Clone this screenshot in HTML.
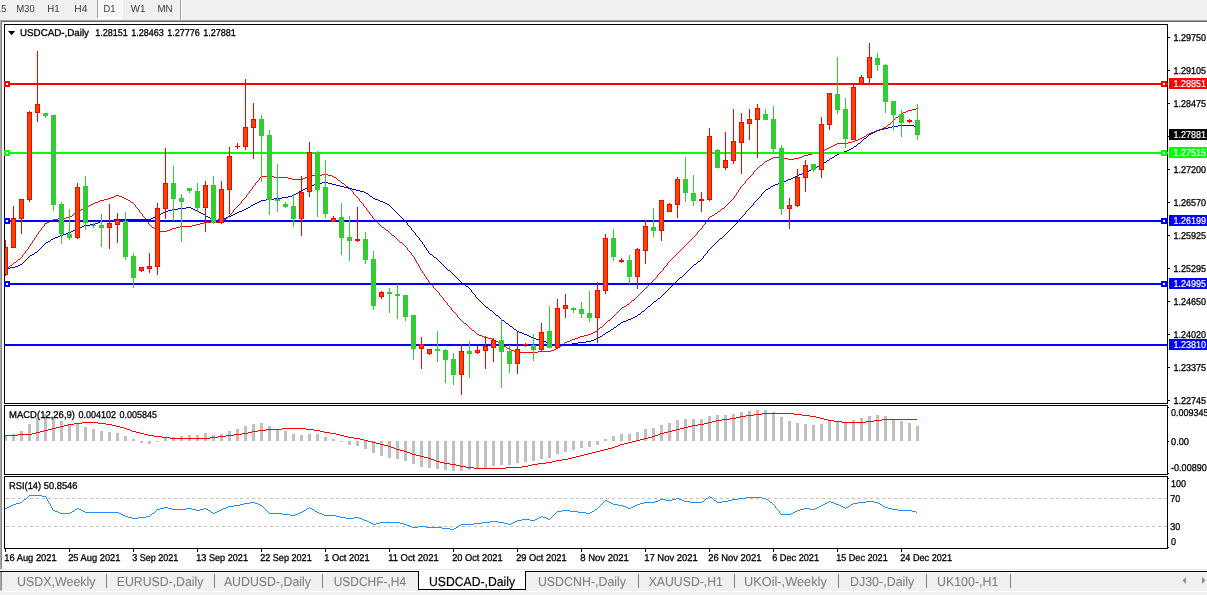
<!DOCTYPE html>
<html lang="en"><head><meta charset="utf-8"><title>USDCAD-,Daily</title>
<style>
html,body{margin:0;padding:0;background:#fff;overflow:hidden}
svg{display:block}
text{font-family:"Liberation Sans","DejaVu Sans",sans-serif}
</style></head><body>
<svg width="1207" height="595" viewBox="0 0 1207 595">
<rect x="0" y="0" width="1207" height="595" fill="#ffffff"/>
<rect x="0" y="0" width="1207" height="20" fill="#f0f0f0"/>
<rect x="0" y="20" width="1207" height="1" fill="#a0a0a0"/>
<rect x="0" y="21" width="1207" height="1" fill="#696969"/>
<pattern id="chk" width="2" height="2" patternUnits="userSpaceOnUse"><rect width="2" height="2" fill="#f0f0f0"/><rect width="1" height="1" fill="#fff"/><rect x="1" y="1" width="1" height="1" fill="#fff"/></pattern>
<rect x="98" y="0" width="24" height="18" fill="url(#chk)" shape-rendering="crispEdges"/>
<rect x="97" y="0" width="1" height="18" fill="#a0a0a0"/>
<rect x="122" y="0" width="1" height="19" fill="#ffffff"/>
<rect x="98" y="18" width="25" height="1" fill="#ffffff"/>
<rect x="180" y="0" width="1" height="20" fill="#a0a0a0"/>
<rect x="181" y="0" width="1" height="20" fill="#ffffff"/>
<text x="-11.5" y="12" font-size="10.2" fill="#3a3a3a" stroke="#3a3a3a" stroke-width="0" text-rendering="geometricPrecision" textLength="17.8" lengthAdjust="spacingAndGlyphs" xml:space="preserve">M15</text>
<text x="16.6" y="12" font-size="10.2" fill="#3a3a3a" stroke="#3a3a3a" stroke-width="0" text-rendering="geometricPrecision" textLength="18.0" lengthAdjust="spacingAndGlyphs" xml:space="preserve">M30</text>
<text x="47.3" y="12" font-size="10.2" fill="#3a3a3a" stroke="#3a3a3a" stroke-width="0" text-rendering="geometricPrecision" textLength="12.3" lengthAdjust="spacingAndGlyphs" xml:space="preserve">H1</text>
<text x="74.3" y="12" font-size="10.2" fill="#3a3a3a" stroke="#3a3a3a" stroke-width="0" text-rendering="geometricPrecision" textLength="13.1" lengthAdjust="spacingAndGlyphs" xml:space="preserve">H4</text>
<text x="103.6" y="12" font-size="10.2" fill="#3a3a3a" stroke="#3a3a3a" stroke-width="0" text-rendering="geometricPrecision" textLength="12.0" lengthAdjust="spacingAndGlyphs" xml:space="preserve">D1</text>
<text x="130.8" y="12" font-size="10.2" fill="#3a3a3a" stroke="#3a3a3a" stroke-width="0" text-rendering="geometricPrecision" textLength="14.6" lengthAdjust="spacingAndGlyphs" xml:space="preserve">W1</text>
<text x="157.4" y="12" font-size="10.2" fill="#3a3a3a" stroke="#3a3a3a" stroke-width="0" text-rendering="geometricPrecision" textLength="15.2" lengthAdjust="spacingAndGlyphs" xml:space="preserve">MN</text>
<rect x="0" y="20" width="1" height="549" fill="#a8a8a8"/>
<rect x="1" y="21" width="1" height="548" fill="#888888"/>
<rect x="4" y="24" width="1164" height="1" fill="#000000"/>
<rect x="4" y="24" width="1" height="380" fill="#000000"/>
<rect x="4" y="403" width="1164" height="1" fill="#000000"/>
<rect x="1167" y="24" width="1" height="380" fill="#000000"/>
<rect x="1167" y="405" width="1" height="70" fill="#000000"/>
<rect x="1167" y="476" width="1" height="73" fill="#000000"/>
<rect x="4" y="405" width="1164" height="1" fill="#000000"/>
<rect x="4" y="405" width="1" height="70" fill="#000000"/>
<rect x="4" y="474" width="1164" height="1" fill="#000000"/>
<rect x="4" y="476" width="1164" height="1" fill="#000000"/>
<rect x="4" y="476" width="1" height="73" fill="#000000"/>
<rect x="4" y="548" width="1164" height="1" fill="#000000"/>
<g shape-rendering="crispEdges">
<clipPath id="cm"><rect x="5" y="25" width="1164" height="378"/></clipPath>
<clipPath id="c2"><rect x="5" y="406" width="1162" height="68"/></clipPath>
<clipPath id="c3"><rect x="5" y="477" width="1162" height="71"/></clipPath>
<g clip-path="url(#cm)">
<path d="M916 108h1v1h-1zM912 109h4v1h-4zM908 110h4v1h-4zM906 111h2v1h-2zM903 112h3v1h-3zM901 113h2v1h-2zM900 114h1v1h-1zM899 115h1v1h-1zM898 116h1v1h-1zM896 117h2v1h-2zM895 118h1v1h-1zM894 119h1v1h-1zM893 120h1v1h-1zM892 121h1v1h-1zM891 122h1v1h-1zM890 123h1v1h-1zM888 124h2v1h-2zM887 125h1v1h-1zM886 126h1v1h-1zM884 127h2v1h-2zM882 128h2v1h-2zM879 129h3v1h-3zM876 130h3v1h-3zM874 131h2v1h-2zM871 132h3v1h-3zM869 133h2v1h-2zM867 134h2v1h-2zM866 135h1v1h-1zM864 136h2v1h-2zM862 137h2v1h-2zM860 138h2v1h-2zM858 139h2v1h-2zM855 140h3v1h-3zM852 141h3v1h-3zM848 142h4v1h-4zM837 143h11v1h-11zM835 144h2v1h-2zM833 145h2v1h-2zM831 146h2v1h-2zM829 147h2v1h-2zM827 148h2v1h-2zM825 149h2v1h-2zM823 150h2v1h-2zM820 151h3v1h-3zM816 152h4v1h-4zM812 153h4v1h-4zM808 154h4v1h-4zM804 155h4v1h-4zM802 156h2v1h-2zM773 157h11v1h-11zM799 157h3v1h-3zM771 158h2v1h-2zM784 158h4v1h-4zM794 158h5v1h-5zM769 159h2v1h-2zM788 159h6v1h-6zM767 160h2v1h-2zM765 161h2v1h-2zM764 162h1v1h-1zM763 163h1v1h-1zM762 164h1v1h-1zM760 165h2v1h-2zM759 166h1v1h-1zM758 167h1v1h-1zM757 168h1v1h-1zM756 169h1v1h-1zM755 170h1v1h-1zM754 171h1v1h-1zM753 172h1v1h-1zM753 173h1v1h-1zM322 174h6v1h-6zM752 174h1v1h-1zM309 175h13v1h-13zM328 175h4v1h-4zM751 175h1v1h-1zM261 176h13v1h-13zM307 176h2v1h-2zM332 176h2v1h-2zM750 176h1v1h-1zM260 177h1v1h-1zM274 177h14v1h-14zM305 177h2v1h-2zM334 177h2v1h-2zM749 177h1v1h-1zM259 178h1v1h-1zM288 178h4v1h-4zM303 178h2v1h-2zM336 178h1v1h-1zM748 178h1v1h-1zM259 179h1v1h-1zM292 179h11v1h-11zM337 179h1v1h-1zM747 179h1v1h-1zM258 180h1v1h-1zM338 180h2v1h-2zM746 180h1v1h-1zM257 181h1v1h-1zM340 181h1v1h-1zM745 181h1v1h-1zM256 182h1v1h-1zM341 182h1v1h-1zM745 182h1v1h-1zM255 183h1v1h-1zM342 183h2v1h-2zM744 183h1v1h-1zM255 184h1v1h-1zM344 184h1v1h-1zM743 184h1v1h-1zM254 185h1v1h-1zM345 185h1v1h-1zM742 185h1v1h-1zM253 186h1v1h-1zM346 186h2v1h-2zM741 186h1v1h-1zM252 187h1v1h-1zM348 187h1v1h-1zM740 187h1v1h-1zM252 188h1v1h-1zM349 188h1v1h-1zM740 188h1v1h-1zM251 189h1v1h-1zM350 189h1v1h-1zM739 189h1v1h-1zM250 190h1v1h-1zM351 190h1v1h-1zM738 190h1v1h-1zM249 191h1v1h-1zM352 191h1v1h-1zM738 191h1v1h-1zM249 192h1v1h-1zM353 192h1v1h-1zM737 192h1v1h-1zM248 193h1v1h-1zM353 193h1v1h-1zM736 193h1v1h-1zM247 194h1v1h-1zM354 194h1v1h-1zM736 194h1v1h-1zM116 195h3v1h-3zM246 195h1v1h-1zM355 195h1v1h-1zM735 195h1v1h-1zM114 196h2v1h-2zM119 196h3v1h-3zM246 196h1v1h-1zM356 196h1v1h-1zM734 196h1v1h-1zM111 197h3v1h-3zM122 197h2v1h-2zM245 197h1v1h-1zM357 197h1v1h-1zM734 197h1v1h-1zM108 198h3v1h-3zM124 198h2v1h-2zM244 198h1v1h-1zM358 198h1v1h-1zM733 198h1v1h-1zM104 199h4v1h-4zM126 199h2v1h-2zM243 199h1v1h-1zM359 199h1v1h-1zM732 199h1v1h-1zM100 200h4v1h-4zM128 200h2v1h-2zM242 200h1v1h-1zM359 200h1v1h-1zM731 200h1v1h-1zM98 201h2v1h-2zM130 201h1v1h-1zM241 201h1v1h-1zM360 201h1v1h-1zM730 201h1v1h-1zM95 202h3v1h-3zM131 202h2v1h-2zM241 202h1v1h-1zM361 202h1v1h-1zM729 202h1v1h-1zM93 203h2v1h-2zM133 203h1v1h-1zM240 203h1v1h-1zM362 203h1v1h-1zM728 203h1v1h-1zM91 204h2v1h-2zM134 204h1v1h-1zM239 204h1v1h-1zM363 204h1v1h-1zM727 204h1v1h-1zM89 205h2v1h-2zM135 205h1v1h-1zM238 205h1v1h-1zM363 205h1v1h-1zM726 205h1v1h-1zM87 206h2v1h-2zM135 206h1v1h-1zM237 206h1v1h-1zM364 206h1v1h-1zM725 206h1v1h-1zM85 207h2v1h-2zM136 207h1v1h-1zM236 207h1v1h-1zM365 207h1v1h-1zM724 207h1v1h-1zM83 208h2v1h-2zM137 208h1v1h-1zM235 208h1v1h-1zM366 208h1v1h-1zM722 208h2v1h-2zM81 209h2v1h-2zM138 209h1v1h-1zM234 209h1v1h-1zM366 209h1v1h-1zM721 209h1v1h-1zM79 210h2v1h-2zM139 210h1v1h-1zM233 210h1v1h-1zM367 210h1v1h-1zM720 210h1v1h-1zM77 211h2v1h-2zM139 211h1v1h-1zM233 211h1v1h-1zM368 211h1v1h-1zM718 211h2v1h-2zM76 212h1v1h-1zM140 212h1v1h-1zM232 212h1v1h-1zM369 212h1v1h-1zM717 212h1v1h-1zM74 213h2v1h-2zM141 213h1v1h-1zM231 213h1v1h-1zM369 213h1v1h-1zM715 213h2v1h-2zM73 214h1v1h-1zM142 214h1v1h-1zM230 214h1v1h-1zM370 214h1v1h-1zM714 214h1v1h-1zM72 215h1v1h-1zM142 215h1v1h-1zM229 215h1v1h-1zM371 215h1v1h-1zM712 215h2v1h-2zM70 216h2v1h-2zM143 216h1v1h-1zM228 216h1v1h-1zM372 216h1v1h-1zM710 216h2v1h-2zM66 217h4v1h-4zM144 217h1v1h-1zM227 217h1v1h-1zM372 217h1v1h-1zM709 217h1v1h-1zM58 218h8v1h-8zM145 218h1v1h-1zM226 218h1v1h-1zM373 218h1v1h-1zM708 218h1v1h-1zM53 219h5v1h-5zM145 219h1v1h-1zM224 219h2v1h-2zM374 219h1v1h-1zM708 219h1v1h-1zM51 220h2v1h-2zM146 220h1v1h-1zM223 220h1v1h-1zM375 220h1v1h-1zM707 220h1v1h-1zM49 221h2v1h-2zM147 221h1v1h-1zM222 221h1v1h-1zM376 221h1v1h-1zM706 221h1v1h-1zM47 222h2v1h-2zM148 222h1v1h-1zM204 222h18v1h-18zM377 222h1v1h-1zM705 222h1v1h-1zM45 223h2v1h-2zM148 223h1v1h-1zM200 223h4v1h-4zM378 223h1v1h-1zM705 223h1v1h-1zM44 224h1v1h-1zM149 224h1v1h-1zM196 224h4v1h-4zM379 224h1v1h-1zM704 224h1v1h-1zM44 225h1v1h-1zM150 225h1v1h-1zM192 225h4v1h-4zM380 225h1v1h-1zM703 225h1v1h-1zM43 226h1v1h-1zM151 226h1v1h-1zM180 226h12v1h-12zM381 226h1v1h-1zM702 226h1v1h-1zM42 227h1v1h-1zM152 227h2v1h-2zM176 227h4v1h-4zM382 227h2v1h-2zM702 227h1v1h-1zM41 228h1v1h-1zM154 228h1v1h-1zM172 228h4v1h-4zM384 228h1v1h-1zM701 228h1v1h-1zM41 229h1v1h-1zM155 229h1v1h-1zM170 229h2v1h-2zM385 229h1v1h-1zM700 229h1v1h-1zM40 230h1v1h-1zM156 230h1v1h-1zM167 230h3v1h-3zM386 230h2v1h-2zM699 230h1v1h-1zM39 231h1v1h-1zM157 231h10v1h-10zM388 231h1v1h-1zM698 231h1v1h-1zM38 232h1v1h-1zM389 232h1v1h-1zM697 232h1v1h-1zM38 233h1v1h-1zM390 233h1v1h-1zM697 233h1v1h-1zM37 234h1v1h-1zM391 234h1v1h-1zM696 234h1v1h-1zM36 235h1v1h-1zM392 235h2v1h-2zM695 235h1v1h-1zM36 236h1v1h-1zM394 236h1v1h-1zM694 236h1v1h-1zM35 237h1v1h-1zM395 237h1v1h-1zM693 237h1v1h-1zM34 238h1v1h-1zM396 238h1v1h-1zM692 238h1v1h-1zM34 239h1v1h-1zM397 239h1v1h-1zM691 239h1v1h-1zM33 240h1v1h-1zM398 240h1v1h-1zM690 240h1v1h-1zM32 241h1v1h-1zM399 241h1v1h-1zM689 241h1v1h-1zM32 242h1v1h-1zM400 242h2v1h-2zM688 242h1v1h-1zM31 243h1v1h-1zM402 243h1v1h-1zM687 243h1v1h-1zM30 244h1v1h-1zM403 244h1v1h-1zM686 244h1v1h-1zM30 245h1v1h-1zM404 245h1v1h-1zM685 245h1v1h-1zM29 246h1v1h-1zM405 246h1v1h-1zM684 246h1v1h-1zM28 247h1v1h-1zM406 247h1v1h-1zM683 247h1v1h-1zM28 248h1v1h-1zM407 248h1v1h-1zM682 248h1v1h-1zM27 249h1v1h-1zM407 249h1v1h-1zM681 249h1v1h-1zM26 250h1v1h-1zM408 250h1v1h-1zM680 250h1v1h-1zM25 251h1v1h-1zM409 251h1v1h-1zM679 251h1v1h-1zM25 252h1v1h-1zM410 252h1v1h-1zM678 252h1v1h-1zM24 253h1v1h-1zM411 253h1v1h-1zM677 253h1v1h-1zM23 254h1v1h-1zM411 254h1v1h-1zM676 254h1v1h-1zM22 255h1v1h-1zM412 255h1v1h-1zM675 255h1v1h-1zM22 256h1v1h-1zM413 256h1v1h-1zM674 256h1v1h-1zM21 257h1v1h-1zM414 257h1v1h-1zM673 257h1v1h-1zM20 258h1v1h-1zM414 258h1v1h-1zM672 258h1v1h-1zM18 259h2v1h-2zM415 259h1v1h-1zM671 259h1v1h-1zM17 260h1v1h-1zM415 260h1v1h-1zM670 260h1v1h-1zM16 261h1v1h-1zM416 261h1v1h-1zM669 261h1v1h-1zM14 262h2v1h-2zM416 262h1v1h-1zM668 262h1v1h-1zM13 263h1v1h-1zM417 263h1v1h-1zM667 263h1v1h-1zM12 264h1v1h-1zM418 264h1v1h-1zM667 264h1v1h-1zM10 265h2v1h-2zM418 265h1v1h-1zM666 265h1v1h-1zM9 266h1v1h-1zM419 266h1v1h-1zM665 266h1v1h-1zM8 267h1v1h-1zM419 267h1v1h-1zM664 267h1v1h-1zM6 268h2v1h-2zM420 268h1v1h-1zM663 268h1v1h-1zM5 269h1v1h-1zM420 269h1v1h-1zM663 269h1v1h-1zM421 270h1v1h-1zM662 270h1v1h-1zM422 271h1v1h-1zM661 271h1v1h-1zM422 272h1v1h-1zM660 272h1v1h-1zM423 273h1v1h-1zM659 273h1v1h-1zM424 274h1v1h-1zM658 274h1v1h-1zM424 275h1v1h-1zM657 275h1v1h-1zM425 276h1v1h-1zM657 276h1v1h-1zM426 277h1v1h-1zM656 277h1v1h-1zM426 278h1v1h-1zM655 278h1v1h-1zM427 279h1v1h-1zM654 279h1v1h-1zM428 280h1v1h-1zM653 280h1v1h-1zM428 281h1v1h-1zM652 281h1v1h-1zM429 282h1v1h-1zM651 282h1v1h-1zM430 283h1v1h-1zM650 283h1v1h-1zM431 284h1v1h-1zM649 284h1v1h-1zM432 285h1v1h-1zM648 285h1v1h-1zM433 286h1v1h-1zM647 286h1v1h-1zM433 287h1v1h-1zM646 287h1v1h-1zM434 288h1v1h-1zM645 288h1v1h-1zM435 289h1v1h-1zM644 289h1v1h-1zM436 290h1v1h-1zM643 290h1v1h-1zM437 291h1v1h-1zM642 291h1v1h-1zM438 292h1v1h-1zM641 292h1v1h-1zM439 293h1v1h-1zM640 293h1v1h-1zM439 294h1v1h-1zM639 294h1v1h-1zM440 295h1v1h-1zM638 295h1v1h-1zM441 296h1v1h-1zM637 296h1v1h-1zM442 297h1v1h-1zM636 297h1v1h-1zM443 298h1v1h-1zM635 298h1v1h-1zM443 299h1v1h-1zM634 299h1v1h-1zM444 300h1v1h-1zM632 300h2v1h-2zM445 301h1v1h-1zM631 301h1v1h-1zM446 302h1v1h-1zM630 302h1v1h-1zM447 303h1v1h-1zM629 303h1v1h-1zM447 304h1v1h-1zM627 304h2v1h-2zM448 305h1v1h-1zM626 305h1v1h-1zM449 306h1v1h-1zM624 306h2v1h-2zM450 307h1v1h-1zM622 307h2v1h-2zM451 308h1v1h-1zM621 308h1v1h-1zM451 309h1v1h-1zM620 309h1v1h-1zM452 310h1v1h-1zM619 310h1v1h-1zM453 311h1v1h-1zM618 311h1v1h-1zM454 312h1v1h-1zM617 312h1v1h-1zM455 313h1v1h-1zM616 313h1v1h-1zM456 314h1v1h-1zM615 314h1v1h-1zM457 315h1v1h-1zM614 315h1v1h-1zM457 316h1v1h-1zM613 316h1v1h-1zM458 317h1v1h-1zM612 317h1v1h-1zM459 318h1v1h-1zM611 318h1v1h-1zM460 319h1v1h-1zM610 319h1v1h-1zM461 320h1v1h-1zM608 320h2v1h-2zM462 321h1v1h-1zM607 321h1v1h-1zM463 322h1v1h-1zM606 322h1v1h-1zM464 323h2v1h-2zM605 323h1v1h-1zM466 324h1v1h-1zM604 324h1v1h-1zM467 325h1v1h-1zM603 325h1v1h-1zM468 326h1v1h-1zM602 326h1v1h-1zM469 327h1v1h-1zM600 327h2v1h-2zM470 328h1v1h-1zM599 328h1v1h-1zM471 329h1v1h-1zM598 329h1v1h-1zM472 330h2v1h-2zM597 330h1v1h-1zM474 331h1v1h-1zM595 331h2v1h-2zM475 332h1v1h-1zM593 332h2v1h-2zM476 333h1v1h-1zM591 333h2v1h-2zM477 334h2v1h-2zM588 334h3v1h-3zM479 335h3v1h-3zM584 335h4v1h-4zM482 336h2v1h-2zM580 336h4v1h-4zM484 337h4v1h-4zM578 337h2v1h-2zM488 338h4v1h-4zM575 338h3v1h-3zM492 339h2v1h-2zM572 339h3v1h-3zM494 340h2v1h-2zM570 340h2v1h-2zM496 341h2v1h-2zM567 341h3v1h-3zM498 342h1v1h-1zM565 342h2v1h-2zM499 343h2v1h-2zM564 343h1v1h-1zM501 344h1v1h-1zM562 344h2v1h-2zM502 345h2v1h-2zM561 345h1v1h-1zM504 346h2v1h-2zM560 346h1v1h-1zM506 347h1v1h-1zM558 347h2v1h-2zM507 348h2v1h-2zM556 348h2v1h-2zM509 349h2v1h-2zM554 349h2v1h-2zM511 350h3v1h-3zM551 350h3v1h-3zM514 351h2v1h-2zM538 351h13v1h-13zM516 352h22v1h-22z" fill="#ff0000"/>
<path d="M898 125h16v1h-16zM892 126h6v1h-6zM914 126h3v1h-3zM888 127h4v1h-4zM884 128h4v1h-4zM880 129h4v1h-4zM877 130h3v1h-3zM875 131h2v1h-2zM873 132h2v1h-2zM871 133h2v1h-2zM869 134h2v1h-2zM868 135h1v1h-1zM867 136h1v1h-1zM866 137h1v1h-1zM864 138h2v1h-2zM863 139h1v1h-1zM862 140h1v1h-1zM861 141h1v1h-1zM860 142h1v1h-1zM858 143h2v1h-2zM857 144h1v1h-1zM856 145h1v1h-1zM854 146h2v1h-2zM853 147h1v1h-1zM851 148h2v1h-2zM849 149h2v1h-2zM847 150h2v1h-2zM844 151h3v1h-3zM842 152h2v1h-2zM839 153h3v1h-3zM837 154h2v1h-2zM835 155h2v1h-2zM834 156h1v1h-1zM832 157h2v1h-2zM830 158h2v1h-2zM829 159h1v1h-1zM827 160h2v1h-2zM826 161h1v1h-1zM824 162h2v1h-2zM822 163h2v1h-2zM821 164h1v1h-1zM819 165h2v1h-2zM817 166h2v1h-2zM815 167h2v1h-2zM813 168h2v1h-2zM811 169h2v1h-2zM809 170h2v1h-2zM807 171h2v1h-2zM804 172h3v1h-3zM802 173h2v1h-2zM799 174h3v1h-3zM797 175h2v1h-2zM795 176h2v1h-2zM793 177h2v1h-2zM791 178h2v1h-2zM788 179h3v1h-3zM786 180h2v1h-2zM783 181h3v1h-3zM322 182h6v1h-6zM780 182h3v1h-3zM316 183h6v1h-6zM328 183h4v1h-4zM778 183h2v1h-2zM314 184h2v1h-2zM332 184h4v1h-4zM775 184h3v1h-3zM311 185h3v1h-3zM336 185h4v1h-4zM773 185h2v1h-2zM309 186h2v1h-2zM340 186h4v1h-4zM771 186h2v1h-2zM307 187h2v1h-2zM344 187h4v1h-4zM770 187h1v1h-1zM305 188h2v1h-2zM348 188h4v1h-4zM768 188h2v1h-2zM303 189h2v1h-2zM352 189h4v1h-4zM766 189h2v1h-2zM301 190h2v1h-2zM356 190h4v1h-4zM765 190h1v1h-1zM299 191h2v1h-2zM360 191h4v1h-4zM764 191h1v1h-1zM298 192h1v1h-1zM364 192h2v1h-2zM763 192h1v1h-1zM296 193h2v1h-2zM366 193h2v1h-2zM762 193h1v1h-1zM294 194h2v1h-2zM368 194h1v1h-1zM761 194h1v1h-1zM292 195h2v1h-2zM369 195h1v1h-1zM761 195h1v1h-1zM288 196h4v1h-4zM370 196h2v1h-2zM760 196h1v1h-1zM282 197h6v1h-6zM372 197h1v1h-1zM759 197h1v1h-1zM274 198h8v1h-8zM373 198h2v1h-2zM758 198h1v1h-1zM266 199h8v1h-8zM375 199h3v1h-3zM757 199h1v1h-1zM261 200h5v1h-5zM378 200h2v1h-2zM756 200h1v1h-1zM259 201h2v1h-2zM380 201h3v1h-3zM755 201h1v1h-1zM257 202h2v1h-2zM383 202h2v1h-2zM754 202h1v1h-1zM255 203h2v1h-2zM385 203h2v1h-2zM753 203h1v1h-1zM253 204h2v1h-2zM387 204h2v1h-2zM753 204h1v1h-1zM251 205h2v1h-2zM389 205h1v1h-1zM752 205h1v1h-1zM250 206h1v1h-1zM390 206h1v1h-1zM751 206h1v1h-1zM186 207h5v1h-5zM248 207h2v1h-2zM391 207h1v1h-1zM750 207h1v1h-1zM178 208h8v1h-8zM191 208h2v1h-2zM246 208h2v1h-2zM392 208h1v1h-1zM749 208h1v1h-1zM172 209h6v1h-6zM193 209h2v1h-2zM244 209h2v1h-2zM393 209h1v1h-1zM748 209h1v1h-1zM168 210h4v1h-4zM195 210h2v1h-2zM242 210h2v1h-2zM394 210h1v1h-1zM747 210h1v1h-1zM165 211h3v1h-3zM197 211h2v1h-2zM239 211h3v1h-3zM395 211h1v1h-1zM746 211h1v1h-1zM163 212h2v1h-2zM199 212h2v1h-2zM237 212h2v1h-2zM396 212h1v1h-1zM745 212h1v1h-1zM161 213h2v1h-2zM201 213h2v1h-2zM235 213h2v1h-2zM397 213h1v1h-1zM745 213h1v1h-1zM159 214h2v1h-2zM203 214h2v1h-2zM233 214h2v1h-2zM398 214h1v1h-1zM744 214h1v1h-1zM157 215h2v1h-2zM205 215h1v1h-1zM231 215h2v1h-2zM399 215h1v1h-1zM743 215h1v1h-1zM155 216h2v1h-2zM206 216h2v1h-2zM228 216h3v1h-3zM400 216h1v1h-1zM742 216h1v1h-1zM153 217h2v1h-2zM208 217h2v1h-2zM226 217h2v1h-2zM401 217h1v1h-1zM741 217h1v1h-1zM151 218h2v1h-2zM210 218h1v1h-1zM223 218h3v1h-3zM402 218h1v1h-1zM740 218h1v1h-1zM114 219h37v1h-37zM211 219h2v1h-2zM218 219h5v1h-5zM403 219h1v1h-1zM739 219h1v1h-1zM106 220h8v1h-8zM213 220h5v1h-5zM404 220h1v1h-1zM738 220h1v1h-1zM100 221h6v1h-6zM405 221h1v1h-1zM737 221h1v1h-1zM98 222h2v1h-2zM406 222h1v1h-1zM737 222h1v1h-1zM95 223h3v1h-3zM407 223h1v1h-1zM736 223h1v1h-1zM90 224h5v1h-5zM407 224h1v1h-1zM735 224h1v1h-1zM84 225h6v1h-6zM408 225h1v1h-1zM734 225h1v1h-1zM82 226h2v1h-2zM409 226h1v1h-1zM733 226h1v1h-1zM79 227h3v1h-3zM410 227h1v1h-1zM732 227h1v1h-1zM77 228h2v1h-2zM411 228h1v1h-1zM731 228h1v1h-1zM75 229h2v1h-2zM411 229h1v1h-1zM730 229h1v1h-1zM73 230h2v1h-2zM412 230h1v1h-1zM729 230h1v1h-1zM71 231h2v1h-2zM413 231h1v1h-1zM728 231h1v1h-1zM68 232h3v1h-3zM414 232h1v1h-1zM727 232h1v1h-1zM66 233h2v1h-2zM415 233h1v1h-1zM726 233h1v1h-1zM63 234h3v1h-3zM415 234h1v1h-1zM725 234h1v1h-1zM60 235h3v1h-3zM416 235h1v1h-1zM724 235h1v1h-1zM58 236h2v1h-2zM417 236h1v1h-1zM723 236h1v1h-1zM55 237h3v1h-3zM418 237h1v1h-1zM722 237h1v1h-1zM53 238h2v1h-2zM419 238h1v1h-1zM720 238h2v1h-2zM51 239h2v1h-2zM419 239h1v1h-1zM719 239h1v1h-1zM50 240h1v1h-1zM420 240h1v1h-1zM718 240h1v1h-1zM48 241h2v1h-2zM421 241h1v1h-1zM717 241h1v1h-1zM46 242h2v1h-2zM422 242h1v1h-1zM716 242h1v1h-1zM45 243h1v1h-1zM422 243h1v1h-1zM715 243h1v1h-1zM44 244h1v1h-1zM423 244h1v1h-1zM714 244h1v1h-1zM43 245h1v1h-1zM424 245h1v1h-1zM713 245h1v1h-1zM42 246h1v1h-1zM424 246h1v1h-1zM712 246h1v1h-1zM41 247h1v1h-1zM425 247h1v1h-1zM711 247h1v1h-1zM40 248h1v1h-1zM426 248h1v1h-1zM710 248h1v1h-1zM39 249h1v1h-1zM426 249h1v1h-1zM709 249h1v1h-1zM38 250h1v1h-1zM427 250h1v1h-1zM708 250h1v1h-1zM37 251h1v1h-1zM428 251h1v1h-1zM707 251h1v1h-1zM35 252h2v1h-2zM428 252h1v1h-1zM707 252h1v1h-1zM34 253h1v1h-1zM429 253h1v1h-1zM706 253h1v1h-1zM32 254h2v1h-2zM430 254h2v1h-2zM705 254h1v1h-1zM30 255h2v1h-2zM432 255h1v1h-1zM704 255h1v1h-1zM29 256h1v1h-1zM433 256h1v1h-1zM703 256h1v1h-1zM28 257h1v1h-1zM434 257h2v1h-2zM703 257h1v1h-1zM27 258h1v1h-1zM436 258h1v1h-1zM702 258h1v1h-1zM26 259h1v1h-1zM437 259h1v1h-1zM701 259h1v1h-1zM25 260h1v1h-1zM438 260h1v1h-1zM700 260h1v1h-1zM24 261h1v1h-1zM439 261h1v1h-1zM698 261h2v1h-2zM23 262h1v1h-1zM440 262h1v1h-1zM697 262h1v1h-1zM22 263h1v1h-1zM441 263h1v1h-1zM696 263h1v1h-1zM20 264h2v1h-2zM442 264h1v1h-1zM694 264h2v1h-2zM18 265h2v1h-2zM443 265h1v1h-1zM693 265h1v1h-1zM15 266h3v1h-3zM444 266h1v1h-1zM692 266h1v1h-1zM10 267h5v1h-5zM445 267h1v1h-1zM691 267h1v1h-1zM5 268h5v1h-5zM446 268h1v1h-1zM690 268h1v1h-1zM447 269h1v1h-1zM689 269h1v1h-1zM448 270h2v1h-2zM688 270h1v1h-1zM450 271h1v1h-1zM687 271h1v1h-1zM451 272h1v1h-1zM686 272h1v1h-1zM452 273h1v1h-1zM685 273h1v1h-1zM453 274h1v1h-1zM684 274h1v1h-1zM454 275h1v1h-1zM683 275h1v1h-1zM455 276h1v1h-1zM682 276h1v1h-1zM456 277h1v1h-1zM680 277h2v1h-2zM457 278h1v1h-1zM679 278h1v1h-1zM458 279h1v1h-1zM678 279h1v1h-1zM459 280h1v1h-1zM677 280h1v1h-1zM460 281h1v1h-1zM676 281h1v1h-1zM461 282h1v1h-1zM675 282h1v1h-1zM462 283h2v1h-2zM674 283h1v1h-1zM464 284h1v1h-1zM673 284h1v1h-1zM465 285h1v1h-1zM672 285h1v1h-1zM466 286h2v1h-2zM671 286h1v1h-1zM468 287h1v1h-1zM670 287h1v1h-1zM469 288h1v1h-1zM669 288h1v1h-1zM470 289h1v1h-1zM668 289h1v1h-1zM471 290h1v1h-1zM667 290h1v1h-1zM471 291h1v1h-1zM666 291h1v1h-1zM472 292h1v1h-1zM665 292h1v1h-1zM473 293h1v1h-1zM664 293h1v1h-1zM474 294h1v1h-1zM663 294h1v1h-1zM475 295h1v1h-1zM662 295h1v1h-1zM475 296h1v1h-1zM661 296h1v1h-1zM476 297h1v1h-1zM660 297h1v1h-1zM477 298h1v1h-1zM658 298h2v1h-2zM478 299h1v1h-1zM657 299h1v1h-1zM479 300h1v1h-1zM656 300h1v1h-1zM480 301h1v1h-1zM654 301h2v1h-2zM481 302h1v1h-1zM653 302h1v1h-1zM482 303h1v1h-1zM652 303h1v1h-1zM483 304h1v1h-1zM651 304h1v1h-1zM484 305h1v1h-1zM650 305h1v1h-1zM485 306h1v1h-1zM648 306h2v1h-2zM486 307h2v1h-2zM647 307h1v1h-1zM488 308h1v1h-1zM646 308h1v1h-1zM489 309h1v1h-1zM645 309h1v1h-1zM490 310h2v1h-2zM644 310h1v1h-1zM492 311h1v1h-1zM642 311h2v1h-2zM493 312h1v1h-1zM641 312h1v1h-1zM494 313h1v1h-1zM640 313h1v1h-1zM495 314h1v1h-1zM638 314h2v1h-2zM496 315h2v1h-2zM637 315h1v1h-1zM498 316h1v1h-1zM635 316h2v1h-2zM499 317h1v1h-1zM633 317h2v1h-2zM500 318h1v1h-1zM631 318h2v1h-2zM501 319h1v1h-1zM628 319h3v1h-3zM502 320h2v1h-2zM626 320h2v1h-2zM504 321h1v1h-1zM623 321h3v1h-3zM505 322h1v1h-1zM621 322h2v1h-2zM506 323h2v1h-2zM620 323h1v1h-1zM508 324h1v1h-1zM618 324h2v1h-2zM509 325h1v1h-1zM617 325h1v1h-1zM510 326h2v1h-2zM616 326h1v1h-1zM512 327h1v1h-1zM614 327h2v1h-2zM513 328h1v1h-1zM613 328h1v1h-1zM514 329h2v1h-2zM611 329h2v1h-2zM516 330h1v1h-1zM610 330h1v1h-1zM517 331h2v1h-2zM608 331h2v1h-2zM519 332h3v1h-3zM606 332h2v1h-2zM522 333h2v1h-2zM605 333h1v1h-1zM524 334h3v1h-3zM603 334h2v1h-2zM527 335h2v1h-2zM602 335h1v1h-1zM529 336h2v1h-2zM600 336h2v1h-2zM531 337h2v1h-2zM598 337h2v1h-2zM533 338h3v1h-3zM596 338h2v1h-2zM536 339h4v1h-4zM594 339h2v1h-2zM540 340h3v1h-3zM591 340h3v1h-3zM543 341h3v1h-3zM586 341h5v1h-5zM546 342h2v1h-2zM578 342h8v1h-8zM548 343h4v1h-4zM572 343h6v1h-6zM552 344h4v1h-4zM568 344h4v1h-4zM556 345h12v1h-12z" fill="#0000cd"/>
<rect x="5" y="83" width="1163" height="2" fill="#ff0000"/>
<rect x="5" y="152" width="1163" height="2" fill="#00ff00"/>
<rect x="5" y="220" width="1163" height="2" fill="#0000ff"/>
<rect x="5" y="283" width="1163" height="2" fill="#0000ff"/>
<rect x="5" y="344" width="1162" height="2" fill="#0000ff"/>
<rect x="5" y="240" width="1" height="36" fill="#ff0000"/>
<rect x="3" y="247" width="5" height="28" fill="#ff0000"/>
<rect x="4" y="248" width="3" height="26" fill="#ff4500"/>
<rect x="13" y="206" width="1" height="42" fill="#ff0000"/>
<rect x="11" y="218" width="5" height="30" fill="#ff0000"/>
<rect x="12" y="219" width="3" height="28" fill="#ff4500"/>
<rect x="21" y="199" width="1" height="35" fill="#ff0000"/>
<rect x="19" y="199" width="5" height="20" fill="#ff0000"/>
<rect x="20" y="200" width="3" height="18" fill="#ff4500"/>
<rect x="29" y="111" width="1" height="91" fill="#ff0000"/>
<rect x="27" y="112" width="5" height="88" fill="#ff0000"/>
<rect x="28" y="113" width="3" height="86" fill="#ff4500"/>
<rect x="37" y="51" width="1" height="71" fill="#ff0000"/>
<rect x="35" y="104" width="5" height="9" fill="#ff0000"/>
<rect x="36" y="105" width="3" height="7" fill="#ff4500"/>
<rect x="45" y="113" width="1" height="5" fill="#32cd32"/>
<rect x="43" y="113" width="5" height="3" fill="#32cd32"/>
<rect x="53" y="115" width="1" height="96" fill="#32cd32"/>
<rect x="51" y="115" width="5" height="90" fill="#32cd32"/>
<rect x="61" y="202" width="1" height="42" fill="#32cd32"/>
<rect x="59" y="204" width="5" height="30" fill="#32cd32"/>
<rect x="69" y="209" width="1" height="31" fill="#32cd32"/>
<rect x="67" y="234" width="5" height="4" fill="#32cd32"/>
<rect x="77" y="183" width="1" height="56" fill="#ff0000"/>
<rect x="75" y="187" width="5" height="51" fill="#ff0000"/>
<rect x="76" y="188" width="3" height="49" fill="#ff4500"/>
<rect x="85" y="176" width="1" height="54" fill="#32cd32"/>
<rect x="83" y="186" width="5" height="37" fill="#32cd32"/>
<rect x="93" y="223" width="1" height="5" fill="#32cd32"/>
<rect x="91" y="225" width="5" height="1" fill="#32cd32"/>
<rect x="101" y="214" width="1" height="33" fill="#32cd32"/>
<rect x="99" y="225" width="5" height="3" fill="#32cd32"/>
<rect x="109" y="204" width="1" height="45" fill="#ff0000"/>
<rect x="107" y="223" width="5" height="5" fill="#ff0000"/>
<rect x="108" y="224" width="3" height="3" fill="#ff4500"/>
<rect x="117" y="213" width="1" height="30" fill="#ff0000"/>
<rect x="115" y="220" width="5" height="5" fill="#ff0000"/>
<rect x="116" y="221" width="3" height="3" fill="#ff4500"/>
<rect x="125" y="212" width="1" height="48" fill="#32cd32"/>
<rect x="123" y="221" width="5" height="36" fill="#32cd32"/>
<rect x="133" y="253" width="1" height="35" fill="#32cd32"/>
<rect x="131" y="256" width="5" height="22" fill="#32cd32"/>
<rect x="141" y="267" width="1" height="5" fill="#ff0000"/>
<rect x="139" y="267" width="5" height="4" fill="#ff0000"/>
<rect x="140" y="268" width="3" height="2" fill="#ff4500"/>
<rect x="149" y="253" width="1" height="20" fill="#ff0000"/>
<rect x="147" y="266" width="5" height="3" fill="#ff0000"/>
<rect x="148" y="267" width="3" height="1" fill="#ff4500"/>
<rect x="157" y="203" width="1" height="72" fill="#ff0000"/>
<rect x="155" y="208" width="5" height="59" fill="#ff0000"/>
<rect x="156" y="209" width="3" height="57" fill="#ff4500"/>
<rect x="165" y="148" width="1" height="71" fill="#ff0000"/>
<rect x="163" y="183" width="5" height="26" fill="#ff0000"/>
<rect x="164" y="184" width="3" height="24" fill="#ff4500"/>
<rect x="173" y="166" width="1" height="55" fill="#32cd32"/>
<rect x="171" y="183" width="5" height="16" fill="#32cd32"/>
<rect x="181" y="194" width="1" height="48" fill="#32cd32"/>
<rect x="179" y="198" width="5" height="4" fill="#32cd32"/>
<rect x="189" y="188" width="1" height="5" fill="#32cd32"/>
<rect x="187" y="188" width="5" height="3" fill="#32cd32"/>
<rect x="197" y="183" width="1" height="29" fill="#32cd32"/>
<rect x="195" y="191" width="5" height="17" fill="#32cd32"/>
<rect x="205" y="181" width="1" height="51" fill="#ff0000"/>
<rect x="203" y="185" width="5" height="23" fill="#ff0000"/>
<rect x="204" y="186" width="3" height="21" fill="#ff4500"/>
<rect x="213" y="176" width="1" height="48" fill="#32cd32"/>
<rect x="211" y="185" width="5" height="38" fill="#32cd32"/>
<rect x="221" y="181" width="1" height="43" fill="#ff0000"/>
<rect x="219" y="189" width="5" height="34" fill="#ff0000"/>
<rect x="220" y="190" width="3" height="32" fill="#ff4500"/>
<rect x="229" y="147" width="1" height="67" fill="#ff0000"/>
<rect x="227" y="156" width="5" height="34" fill="#ff0000"/>
<rect x="228" y="157" width="3" height="32" fill="#ff4500"/>
<rect x="237" y="143" width="1" height="6" fill="#ff0000"/>
<rect x="235" y="146" width="5" height="1" fill="#ff0000"/>
<rect x="245" y="79" width="1" height="71" fill="#ff0000"/>
<rect x="243" y="127" width="5" height="20" fill="#ff0000"/>
<rect x="244" y="128" width="3" height="18" fill="#ff4500"/>
<rect x="253" y="103" width="1" height="56" fill="#ff0000"/>
<rect x="251" y="119" width="5" height="9" fill="#ff0000"/>
<rect x="252" y="120" width="3" height="7" fill="#ff4500"/>
<rect x="261" y="115" width="1" height="67" fill="#32cd32"/>
<rect x="259" y="119" width="5" height="17" fill="#32cd32"/>
<rect x="269" y="130" width="1" height="85" fill="#32cd32"/>
<rect x="267" y="135" width="5" height="65" fill="#32cd32"/>
<rect x="277" y="164" width="1" height="48" fill="#32cd32"/>
<rect x="275" y="199" width="5" height="2" fill="#32cd32"/>
<rect x="285" y="202" width="1" height="6" fill="#32cd32"/>
<rect x="283" y="204" width="5" height="3" fill="#32cd32"/>
<rect x="293" y="194" width="1" height="33" fill="#32cd32"/>
<rect x="291" y="206" width="5" height="13" fill="#32cd32"/>
<rect x="301" y="176" width="1" height="60" fill="#ff0000"/>
<rect x="299" y="192" width="5" height="27" fill="#ff0000"/>
<rect x="300" y="193" width="3" height="25" fill="#ff4500"/>
<rect x="309" y="142" width="1" height="55" fill="#ff0000"/>
<rect x="307" y="152" width="5" height="40" fill="#ff0000"/>
<rect x="308" y="153" width="3" height="38" fill="#ff4500"/>
<rect x="317" y="151" width="1" height="66" fill="#32cd32"/>
<rect x="315" y="152" width="5" height="38" fill="#32cd32"/>
<rect x="325" y="160" width="1" height="58" fill="#32cd32"/>
<rect x="323" y="187" width="5" height="27" fill="#32cd32"/>
<rect x="333" y="216" width="1" height="6" fill="#ff0000"/>
<rect x="331" y="218" width="5" height="4" fill="#ff0000"/>
<rect x="332" y="219" width="3" height="2" fill="#ff4500"/>
<rect x="341" y="203" width="1" height="52" fill="#32cd32"/>
<rect x="339" y="217" width="5" height="21" fill="#32cd32"/>
<rect x="349" y="216" width="1" height="45" fill="#32cd32"/>
<rect x="347" y="237" width="5" height="4" fill="#32cd32"/>
<rect x="357" y="207" width="1" height="35" fill="#ff0000"/>
<rect x="355" y="239" width="5" height="2" fill="#ff0000"/>
<rect x="365" y="232" width="1" height="32" fill="#32cd32"/>
<rect x="363" y="239" width="5" height="21" fill="#32cd32"/>
<rect x="373" y="251" width="1" height="59" fill="#32cd32"/>
<rect x="371" y="259" width="5" height="47" fill="#32cd32"/>
<rect x="381" y="291" width="1" height="8" fill="#ff0000"/>
<rect x="379" y="292" width="5" height="5" fill="#ff0000"/>
<rect x="380" y="293" width="3" height="3" fill="#ff4500"/>
<rect x="389" y="288" width="1" height="25" fill="#32cd32"/>
<rect x="387" y="292" width="5" height="2" fill="#32cd32"/>
<rect x="397" y="284" width="1" height="35" fill="#32cd32"/>
<rect x="395" y="294" width="5" height="2" fill="#32cd32"/>
<rect x="405" y="295" width="1" height="26" fill="#32cd32"/>
<rect x="403" y="295" width="5" height="22" fill="#32cd32"/>
<rect x="413" y="315" width="1" height="45" fill="#32cd32"/>
<rect x="411" y="315" width="5" height="34" fill="#32cd32"/>
<rect x="421" y="337" width="1" height="32" fill="#ff0000"/>
<rect x="419" y="344" width="5" height="5" fill="#ff0000"/>
<rect x="420" y="345" width="3" height="3" fill="#ff4500"/>
<rect x="429" y="349" width="1" height="6" fill="#ff0000"/>
<rect x="427" y="349" width="5" height="5" fill="#ff0000"/>
<rect x="428" y="350" width="3" height="3" fill="#ff4500"/>
<rect x="437" y="331" width="1" height="31" fill="#32cd32"/>
<rect x="435" y="349" width="5" height="2" fill="#32cd32"/>
<rect x="445" y="349" width="1" height="34" fill="#32cd32"/>
<rect x="443" y="350" width="5" height="10" fill="#32cd32"/>
<rect x="453" y="353" width="1" height="32" fill="#32cd32"/>
<rect x="451" y="359" width="5" height="16" fill="#32cd32"/>
<rect x="461" y="344" width="1" height="51" fill="#ff0000"/>
<rect x="459" y="351" width="5" height="24" fill="#ff0000"/>
<rect x="460" y="352" width="3" height="22" fill="#ff4500"/>
<rect x="469" y="341" width="1" height="37" fill="#32cd32"/>
<rect x="467" y="351" width="5" height="3" fill="#32cd32"/>
<rect x="477" y="346" width="1" height="8" fill="#ff0000"/>
<rect x="475" y="350" width="5" height="3" fill="#ff0000"/>
<rect x="476" y="351" width="3" height="1" fill="#ff4500"/>
<rect x="485" y="336" width="1" height="33" fill="#ff0000"/>
<rect x="483" y="346" width="5" height="5" fill="#ff0000"/>
<rect x="484" y="347" width="3" height="3" fill="#ff4500"/>
<rect x="493" y="338" width="1" height="24" fill="#ff0000"/>
<rect x="491" y="340" width="5" height="8" fill="#ff0000"/>
<rect x="492" y="341" width="3" height="6" fill="#ff4500"/>
<rect x="501" y="319" width="1" height="69" fill="#32cd32"/>
<rect x="499" y="340" width="5" height="12" fill="#32cd32"/>
<rect x="509" y="345" width="1" height="28" fill="#32cd32"/>
<rect x="507" y="351" width="5" height="13" fill="#32cd32"/>
<rect x="517" y="332" width="1" height="42" fill="#ff0000"/>
<rect x="515" y="349" width="5" height="15" fill="#ff0000"/>
<rect x="516" y="350" width="3" height="13" fill="#ff4500"/>
<rect x="525" y="343" width="1" height="4" fill="#ff0000"/>
<rect x="523" y="344" width="5" height="1" fill="#ff0000"/>
<rect x="533" y="334" width="1" height="27" fill="#32cd32"/>
<rect x="531" y="345" width="5" height="5" fill="#32cd32"/>
<rect x="541" y="323" width="1" height="28" fill="#ff0000"/>
<rect x="539" y="332" width="5" height="18" fill="#ff0000"/>
<rect x="540" y="333" width="3" height="16" fill="#ff4500"/>
<rect x="549" y="306" width="1" height="42" fill="#32cd32"/>
<rect x="547" y="331" width="5" height="17" fill="#32cd32"/>
<rect x="557" y="299" width="1" height="49" fill="#ff0000"/>
<rect x="555" y="308" width="5" height="40" fill="#ff0000"/>
<rect x="556" y="309" width="3" height="38" fill="#ff4500"/>
<rect x="565" y="294" width="1" height="24" fill="#ff0000"/>
<rect x="563" y="305" width="5" height="4" fill="#ff0000"/>
<rect x="564" y="306" width="3" height="2" fill="#ff4500"/>
<rect x="573" y="307" width="1" height="6" fill="#32cd32"/>
<rect x="571" y="308" width="5" height="2" fill="#32cd32"/>
<rect x="581" y="302" width="1" height="16" fill="#32cd32"/>
<rect x="579" y="309" width="5" height="5" fill="#32cd32"/>
<rect x="589" y="291" width="1" height="31" fill="#32cd32"/>
<rect x="587" y="313" width="5" height="5" fill="#32cd32"/>
<rect x="597" y="282" width="1" height="61" fill="#ff0000"/>
<rect x="595" y="290" width="5" height="28" fill="#ff0000"/>
<rect x="596" y="291" width="3" height="26" fill="#ff4500"/>
<rect x="605" y="234" width="1" height="60" fill="#ff0000"/>
<rect x="603" y="238" width="5" height="53" fill="#ff0000"/>
<rect x="604" y="239" width="3" height="51" fill="#ff4500"/>
<rect x="613" y="229" width="1" height="32" fill="#32cd32"/>
<rect x="611" y="238" width="5" height="19" fill="#32cd32"/>
<rect x="621" y="258" width="1" height="5" fill="#ff0000"/>
<rect x="619" y="260" width="5" height="2" fill="#ff0000"/>
<rect x="629" y="255" width="1" height="29" fill="#32cd32"/>
<rect x="627" y="260" width="5" height="17" fill="#32cd32"/>
<rect x="637" y="248" width="1" height="41" fill="#ff0000"/>
<rect x="635" y="249" width="5" height="28" fill="#ff0000"/>
<rect x="636" y="250" width="3" height="26" fill="#ff4500"/>
<rect x="645" y="220" width="1" height="44" fill="#ff0000"/>
<rect x="643" y="226" width="5" height="25" fill="#ff0000"/>
<rect x="644" y="227" width="3" height="23" fill="#ff4500"/>
<rect x="653" y="208" width="1" height="29" fill="#32cd32"/>
<rect x="651" y="227" width="5" height="4" fill="#32cd32"/>
<rect x="661" y="200" width="1" height="41" fill="#ff0000"/>
<rect x="659" y="200" width="5" height="31" fill="#ff0000"/>
<rect x="660" y="201" width="3" height="29" fill="#ff4500"/>
<rect x="669" y="203" width="1" height="9" fill="#ff0000"/>
<rect x="667" y="204" width="5" height="8" fill="#ff0000"/>
<rect x="668" y="205" width="3" height="6" fill="#ff4500"/>
<rect x="677" y="177" width="1" height="41" fill="#ff0000"/>
<rect x="675" y="179" width="5" height="26" fill="#ff0000"/>
<rect x="676" y="180" width="3" height="24" fill="#ff4500"/>
<rect x="685" y="157" width="1" height="45" fill="#32cd32"/>
<rect x="683" y="179" width="5" height="14" fill="#32cd32"/>
<rect x="693" y="175" width="1" height="31" fill="#32cd32"/>
<rect x="691" y="193" width="5" height="8" fill="#32cd32"/>
<rect x="701" y="192" width="1" height="20" fill="#ff0000"/>
<rect x="699" y="199" width="5" height="2" fill="#ff0000"/>
<rect x="709" y="128" width="1" height="73" fill="#ff0000"/>
<rect x="707" y="136" width="5" height="64" fill="#ff0000"/>
<rect x="708" y="137" width="3" height="62" fill="#ff4500"/>
<rect x="717" y="149" width="1" height="19" fill="#32cd32"/>
<rect x="715" y="150" width="5" height="18" fill="#32cd32"/>
<rect x="725" y="132" width="1" height="38" fill="#ff0000"/>
<rect x="723" y="160" width="5" height="8" fill="#ff0000"/>
<rect x="724" y="161" width="3" height="6" fill="#ff4500"/>
<rect x="733" y="109" width="1" height="55" fill="#ff0000"/>
<rect x="731" y="141" width="5" height="20" fill="#ff0000"/>
<rect x="732" y="142" width="3" height="18" fill="#ff4500"/>
<rect x="741" y="113" width="1" height="61" fill="#ff0000"/>
<rect x="739" y="122" width="5" height="21" fill="#ff0000"/>
<rect x="740" y="123" width="3" height="19" fill="#ff4500"/>
<rect x="749" y="109" width="1" height="31" fill="#ff0000"/>
<rect x="747" y="119" width="5" height="5" fill="#ff0000"/>
<rect x="748" y="120" width="3" height="3" fill="#ff4500"/>
<rect x="757" y="104" width="1" height="54" fill="#ff0000"/>
<rect x="755" y="108" width="5" height="12" fill="#ff0000"/>
<rect x="756" y="109" width="3" height="10" fill="#ff4500"/>
<rect x="765" y="109" width="1" height="11" fill="#32cd32"/>
<rect x="763" y="114" width="5" height="6" fill="#32cd32"/>
<rect x="773" y="106" width="1" height="46" fill="#32cd32"/>
<rect x="771" y="119" width="5" height="30" fill="#32cd32"/>
<rect x="781" y="145" width="1" height="70" fill="#32cd32"/>
<rect x="779" y="148" width="5" height="61" fill="#32cd32"/>
<rect x="789" y="198" width="1" height="31" fill="#ff0000"/>
<rect x="787" y="205" width="5" height="4" fill="#ff0000"/>
<rect x="788" y="206" width="3" height="2" fill="#ff4500"/>
<rect x="797" y="169" width="1" height="38" fill="#ff0000"/>
<rect x="795" y="177" width="5" height="29" fill="#ff0000"/>
<rect x="796" y="178" width="3" height="27" fill="#ff4500"/>
<rect x="805" y="160" width="1" height="32" fill="#ff0000"/>
<rect x="803" y="165" width="5" height="13" fill="#ff0000"/>
<rect x="804" y="166" width="3" height="11" fill="#ff4500"/>
<rect x="813" y="164" width="1" height="8" fill="#32cd32"/>
<rect x="811" y="164" width="5" height="6" fill="#32cd32"/>
<rect x="821" y="117" width="1" height="61" fill="#ff0000"/>
<rect x="819" y="124" width="5" height="46" fill="#ff0000"/>
<rect x="820" y="125" width="3" height="44" fill="#ff4500"/>
<rect x="829" y="93" width="1" height="37" fill="#ff0000"/>
<rect x="827" y="93" width="5" height="32" fill="#ff0000"/>
<rect x="828" y="94" width="3" height="30" fill="#ff4500"/>
<rect x="837" y="57" width="1" height="57" fill="#32cd32"/>
<rect x="835" y="94" width="5" height="16" fill="#32cd32"/>
<rect x="845" y="98" width="1" height="50" fill="#32cd32"/>
<rect x="843" y="109" width="5" height="30" fill="#32cd32"/>
<rect x="853" y="85" width="1" height="55" fill="#ff0000"/>
<rect x="851" y="87" width="5" height="53" fill="#ff0000"/>
<rect x="852" y="88" width="3" height="51" fill="#ff4500"/>
<rect x="861" y="75" width="1" height="9" fill="#ff0000"/>
<rect x="859" y="77" width="5" height="7" fill="#ff0000"/>
<rect x="860" y="78" width="3" height="5" fill="#ff4500"/>
<rect x="869" y="43" width="1" height="40" fill="#ff0000"/>
<rect x="867" y="57" width="5" height="21" fill="#ff0000"/>
<rect x="868" y="58" width="3" height="19" fill="#ff4500"/>
<rect x="877" y="53" width="1" height="18" fill="#32cd32"/>
<rect x="875" y="58" width="5" height="7" fill="#32cd32"/>
<rect x="885" y="64" width="1" height="49" fill="#32cd32"/>
<rect x="883" y="65" width="5" height="37" fill="#32cd32"/>
<rect x="893" y="101" width="1" height="29" fill="#32cd32"/>
<rect x="891" y="101" width="5" height="14" fill="#32cd32"/>
<rect x="901" y="110" width="1" height="27" fill="#32cd32"/>
<rect x="899" y="114" width="5" height="9" fill="#32cd32"/>
<rect x="909" y="119" width="1" height="4" fill="#ff0000"/>
<rect x="907" y="120" width="5" height="2" fill="#ff0000"/>
<rect x="917" y="104" width="1" height="36" fill="#32cd32"/>
<rect x="915" y="120" width="5" height="15" fill="#32cd32"/>
</g>
<rect x="4" y="81" width="6" height="6" fill="#ff0000"/>
<rect x="6" y="83" width="2" height="2" fill="#ffffff"/>
<rect x="1161" y="81" width="6" height="6" fill="#ff0000"/>
<rect x="1163" y="83" width="2" height="2" fill="#ffffff"/>
<rect x="4" y="150" width="6" height="6" fill="#00ff00"/>
<rect x="6" y="152" width="2" height="2" fill="#ffffff"/>
<rect x="1161" y="150" width="6" height="6" fill="#00ff00"/>
<rect x="1163" y="152" width="2" height="2" fill="#ffffff"/>
<rect x="4" y="218" width="6" height="6" fill="#0000ff"/>
<rect x="6" y="220" width="2" height="2" fill="#ffffff"/>
<rect x="1161" y="218" width="6" height="6" fill="#0000ff"/>
<rect x="1163" y="220" width="2" height="2" fill="#ffffff"/>
<rect x="4" y="281" width="6" height="6" fill="#0000ff"/>
<rect x="6" y="283" width="2" height="2" fill="#ffffff"/>
<rect x="1161" y="281" width="6" height="6" fill="#0000ff"/>
<rect x="1163" y="283" width="2" height="2" fill="#ffffff"/>
<g clip-path="url(#c2)">
<rect x="4" y="435" width="3" height="6" fill="#c0c0c0"/>
<rect x="12" y="434" width="3" height="7" fill="#c0c0c0"/>
<rect x="20" y="431" width="3" height="10" fill="#c0c0c0"/>
<rect x="28" y="424" width="3" height="17" fill="#c0c0c0"/>
<rect x="36" y="418" width="3" height="23" fill="#c0c0c0"/>
<rect x="44" y="414" width="3" height="27" fill="#c0c0c0"/>
<rect x="52" y="417" width="3" height="24" fill="#c0c0c0"/>
<rect x="60" y="421" width="3" height="20" fill="#c0c0c0"/>
<rect x="68" y="425" width="3" height="16" fill="#c0c0c0"/>
<rect x="76" y="424" width="3" height="17" fill="#c0c0c0"/>
<rect x="84" y="427" width="3" height="14" fill="#c0c0c0"/>
<rect x="92" y="429" width="3" height="12" fill="#c0c0c0"/>
<rect x="100" y="431" width="3" height="10" fill="#c0c0c0"/>
<rect x="108" y="432" width="3" height="9" fill="#c0c0c0"/>
<rect x="116" y="433" width="3" height="8" fill="#c0c0c0"/>
<rect x="124" y="436" width="3" height="5" fill="#c0c0c0"/>
<rect x="132" y="439" width="3" height="2" fill="#c0c0c0"/>
<rect x="140" y="441" width="3" height="2" fill="#c0c0c0"/>
<rect x="148" y="441" width="3" height="3" fill="#c0c0c0"/>
<rect x="156" y="441" width="3" height="1" fill="#c0c0c0"/>
<rect x="164" y="438" width="3" height="3" fill="#c0c0c0"/>
<rect x="172" y="437" width="3" height="4" fill="#c0c0c0"/>
<rect x="180" y="436" width="3" height="5" fill="#c0c0c0"/>
<rect x="188" y="435" width="3" height="6" fill="#c0c0c0"/>
<rect x="196" y="435" width="3" height="6" fill="#c0c0c0"/>
<rect x="204" y="433" width="3" height="8" fill="#c0c0c0"/>
<rect x="212" y="435" width="3" height="6" fill="#c0c0c0"/>
<rect x="220" y="434" width="3" height="7" fill="#c0c0c0"/>
<rect x="228" y="431" width="3" height="10" fill="#c0c0c0"/>
<rect x="236" y="429" width="3" height="12" fill="#c0c0c0"/>
<rect x="244" y="426" width="3" height="15" fill="#c0c0c0"/>
<rect x="252" y="424" width="3" height="17" fill="#c0c0c0"/>
<rect x="260" y="423" width="3" height="18" fill="#c0c0c0"/>
<rect x="268" y="426" width="3" height="15" fill="#c0c0c0"/>
<rect x="276" y="430" width="3" height="11" fill="#c0c0c0"/>
<rect x="284" y="431" width="3" height="10" fill="#c0c0c0"/>
<rect x="292" y="434" width="3" height="7" fill="#c0c0c0"/>
<rect x="300" y="435" width="3" height="6" fill="#c0c0c0"/>
<rect x="308" y="434" width="3" height="7" fill="#c0c0c0"/>
<rect x="316" y="434" width="3" height="7" fill="#c0c0c0"/>
<rect x="324" y="437" width="3" height="4" fill="#c0c0c0"/>
<rect x="332" y="439" width="3" height="2" fill="#c0c0c0"/>
<rect x="340" y="441" width="3" height="1" fill="#c0c0c0"/>
<rect x="348" y="441" width="3" height="4" fill="#c0c0c0"/>
<rect x="356" y="441" width="3" height="5" fill="#c0c0c0"/>
<rect x="364" y="441" width="3" height="8" fill="#c0c0c0"/>
<rect x="372" y="441" width="3" height="12" fill="#c0c0c0"/>
<rect x="380" y="441" width="3" height="15" fill="#c0c0c0"/>
<rect x="388" y="441" width="3" height="17" fill="#c0c0c0"/>
<rect x="396" y="441" width="3" height="18" fill="#c0c0c0"/>
<rect x="404" y="441" width="3" height="20" fill="#c0c0c0"/>
<rect x="412" y="441" width="3" height="23" fill="#c0c0c0"/>
<rect x="420" y="441" width="3" height="26" fill="#c0c0c0"/>
<rect x="428" y="441" width="3" height="27" fill="#c0c0c0"/>
<rect x="436" y="441" width="3" height="28" fill="#c0c0c0"/>
<rect x="444" y="441" width="3" height="29" fill="#c0c0c0"/>
<rect x="452" y="441" width="3" height="30" fill="#c0c0c0"/>
<rect x="460" y="441" width="3" height="30" fill="#c0c0c0"/>
<rect x="468" y="441" width="3" height="29" fill="#c0c0c0"/>
<rect x="476" y="441" width="3" height="28" fill="#c0c0c0"/>
<rect x="484" y="441" width="3" height="27" fill="#c0c0c0"/>
<rect x="492" y="441" width="3" height="25" fill="#c0c0c0"/>
<rect x="500" y="441" width="3" height="24" fill="#c0c0c0"/>
<rect x="508" y="441" width="3" height="24" fill="#c0c0c0"/>
<rect x="516" y="441" width="3" height="22" fill="#c0c0c0"/>
<rect x="524" y="441" width="3" height="21" fill="#c0c0c0"/>
<rect x="532" y="441" width="3" height="20" fill="#c0c0c0"/>
<rect x="540" y="441" width="3" height="18" fill="#c0c0c0"/>
<rect x="548" y="441" width="3" height="17" fill="#c0c0c0"/>
<rect x="556" y="441" width="3" height="13" fill="#c0c0c0"/>
<rect x="564" y="441" width="3" height="11" fill="#c0c0c0"/>
<rect x="572" y="441" width="3" height="9" fill="#c0c0c0"/>
<rect x="580" y="441" width="3" height="7" fill="#c0c0c0"/>
<rect x="588" y="441" width="3" height="6" fill="#c0c0c0"/>
<rect x="596" y="441" width="3" height="4" fill="#c0c0c0"/>
<rect x="604" y="439" width="3" height="2" fill="#c0c0c0"/>
<rect x="612" y="436" width="3" height="5" fill="#c0c0c0"/>
<rect x="620" y="434" width="3" height="7" fill="#c0c0c0"/>
<rect x="628" y="434" width="3" height="7" fill="#c0c0c0"/>
<rect x="636" y="432" width="3" height="9" fill="#c0c0c0"/>
<rect x="644" y="429" width="3" height="12" fill="#c0c0c0"/>
<rect x="652" y="428" width="3" height="13" fill="#c0c0c0"/>
<rect x="660" y="425" width="3" height="16" fill="#c0c0c0"/>
<rect x="668" y="423" width="3" height="18" fill="#c0c0c0"/>
<rect x="676" y="420" width="3" height="21" fill="#c0c0c0"/>
<rect x="684" y="419" width="3" height="22" fill="#c0c0c0"/>
<rect x="692" y="419" width="3" height="22" fill="#c0c0c0"/>
<rect x="700" y="419" width="3" height="22" fill="#c0c0c0"/>
<rect x="708" y="416" width="3" height="25" fill="#c0c0c0"/>
<rect x="716" y="415" width="3" height="26" fill="#c0c0c0"/>
<rect x="724" y="415" width="3" height="26" fill="#c0c0c0"/>
<rect x="732" y="414" width="3" height="27" fill="#c0c0c0"/>
<rect x="740" y="412" width="3" height="29" fill="#c0c0c0"/>
<rect x="748" y="411" width="3" height="30" fill="#c0c0c0"/>
<rect x="756" y="410" width="3" height="31" fill="#c0c0c0"/>
<rect x="764" y="410" width="3" height="31" fill="#c0c0c0"/>
<rect x="772" y="412" width="3" height="29" fill="#c0c0c0"/>
<rect x="780" y="417" width="3" height="24" fill="#c0c0c0"/>
<rect x="788" y="421" width="3" height="20" fill="#c0c0c0"/>
<rect x="796" y="423" width="3" height="18" fill="#c0c0c0"/>
<rect x="804" y="424" width="3" height="17" fill="#c0c0c0"/>
<rect x="812" y="425" width="3" height="16" fill="#c0c0c0"/>
<rect x="820" y="424" width="3" height="17" fill="#c0c0c0"/>
<rect x="828" y="421" width="3" height="20" fill="#c0c0c0"/>
<rect x="836" y="422" width="3" height="19" fill="#c0c0c0"/>
<rect x="844" y="423" width="3" height="18" fill="#c0c0c0"/>
<rect x="852" y="420" width="3" height="21" fill="#c0c0c0"/>
<rect x="860" y="418" width="3" height="23" fill="#c0c0c0"/>
<rect x="868" y="416" width="3" height="25" fill="#c0c0c0"/>
<rect x="876" y="415" width="3" height="26" fill="#c0c0c0"/>
<rect x="884" y="416" width="3" height="25" fill="#c0c0c0"/>
<rect x="892" y="420" width="3" height="21" fill="#c0c0c0"/>
<rect x="900" y="421" width="3" height="20" fill="#c0c0c0"/>
<rect x="908" y="423" width="3" height="18" fill="#c0c0c0"/>
<rect x="916" y="426" width="3" height="15" fill="#c0c0c0"/>
<path d="M762 413h32v1h-32zM754 414h8v1h-8zM794 414h8v1h-8zM746 415h8v1h-8zM802 415h8v1h-8zM740 416h6v1h-6zM810 416h6v1h-6zM736 417h4v1h-4zM816 417h4v1h-4zM730 418h6v1h-6zM820 418h4v1h-4zM722 419h8v1h-8zM824 419h4v1h-4zM882 419h35v1h-35zM716 420h6v1h-6zM828 420h6v1h-6zM874 420h8v1h-8zM712 421h4v1h-4zM834 421h8v1h-8zM866 421h8v1h-8zM82 422h16v1h-16zM708 422h4v1h-4zM842 422h24v1h-24zM74 423h8v1h-8zM98 423h8v1h-8zM704 423h4v1h-4zM68 424h6v1h-6zM106 424h6v1h-6zM698 424h6v1h-6zM64 425h4v1h-4zM112 425h4v1h-4zM692 425h6v1h-6zM60 426h4v1h-4zM116 426h4v1h-4zM688 426h4v1h-4zM56 427h4v1h-4zM120 427h4v1h-4zM684 427h4v1h-4zM52 428h4v1h-4zM124 428h3v1h-3zM282 428h24v1h-24zM680 428h4v1h-4zM48 429h4v1h-4zM127 429h3v1h-3zM266 429h16v1h-16zM306 429h8v1h-8zM676 429h4v1h-4zM44 430h4v1h-4zM130 430h2v1h-2zM258 430h8v1h-8zM314 430h6v1h-6zM672 430h4v1h-4zM40 431h4v1h-4zM132 431h4v1h-4zM252 431h6v1h-6zM320 431h4v1h-4zM668 431h4v1h-4zM36 432h4v1h-4zM136 432h4v1h-4zM248 432h4v1h-4zM324 432h6v1h-6zM664 432h4v1h-4zM32 433h4v1h-4zM140 433h4v1h-4zM242 433h6v1h-6zM330 433h6v1h-6zM660 433h4v1h-4zM18 434h14v1h-14zM144 434h4v1h-4zM234 434h8v1h-8zM336 434h4v1h-4zM658 434h2v1h-2zM5 435h13v1h-13zM148 435h6v1h-6zM226 435h8v1h-8zM340 435h4v1h-4zM655 435h3v1h-3zM154 436h8v1h-8zM218 436h8v1h-8zM344 436h4v1h-4zM652 436h3v1h-3zM162 437h8v1h-8zM210 437h8v1h-8zM348 437h6v1h-6zM648 437h4v1h-4zM170 438h40v1h-40zM354 438h6v1h-6zM644 438h4v1h-4zM360 439h4v1h-4zM640 439h4v1h-4zM364 440h4v1h-4zM636 440h4v1h-4zM368 441h4v1h-4zM632 441h4v1h-4zM372 442h4v1h-4zM628 442h4v1h-4zM376 443h4v1h-4zM624 443h4v1h-4zM380 444h4v1h-4zM620 444h4v1h-4zM384 445h4v1h-4zM618 445h2v1h-2zM388 446h3v1h-3zM615 446h3v1h-3zM391 447h3v1h-3zM612 447h3v1h-3zM394 448h2v1h-2zM608 448h4v1h-4zM396 449h4v1h-4zM604 449h4v1h-4zM400 450h4v1h-4zM600 450h4v1h-4zM404 451h3v1h-3zM596 451h4v1h-4zM407 452h3v1h-3zM592 452h4v1h-4zM410 453h2v1h-2zM588 453h4v1h-4zM412 454h4v1h-4zM584 454h4v1h-4zM416 455h4v1h-4zM580 455h4v1h-4zM420 456h4v1h-4zM576 456h4v1h-4zM424 457h4v1h-4zM572 457h4v1h-4zM428 458h3v1h-3zM568 458h4v1h-4zM431 459h3v1h-3zM562 459h6v1h-6zM434 460h2v1h-2zM556 460h6v1h-6zM436 461h4v1h-4zM552 461h4v1h-4zM440 462h4v1h-4zM546 462h6v1h-6zM444 463h6v1h-6zM538 463h8v1h-8zM450 464h6v1h-6zM532 464h6v1h-6zM456 465h4v1h-4zM528 465h4v1h-4zM460 466h6v1h-6zM522 466h6v1h-6zM466 467h8v1h-8zM506 467h16v1h-16zM474 468h32v1h-32z" fill="#ff0000"/>
</g>
<g clip-path="url(#c3)">
<line x1="6" y1="498.5" x2="1167" y2="498.5" stroke="#c0c0c0" stroke-width="1" stroke-dasharray="3 3"/>
<line x1="6" y1="526.5" x2="1167" y2="526.5" stroke="#c0c0c0" stroke-width="1" stroke-dasharray="3 3"/>
<path d="M29 495h13v1h-13zM28 496h1v1h-1zM42 496h4v1h-4zM709 496h1v1h-1zM27 497h1v1h-1zM46 497h1v1h-1zM708 497h1v1h-1zM710 497h2v1h-2zM746 497h16v1h-16zM26 498h1v1h-1zM46 498h1v1h-1zM676 498h3v1h-3zM706 498h2v1h-2zM712 498h1v1h-1zM738 498h8v1h-8zM762 498h4v1h-4zM24 499h2v1h-2zM47 499h1v1h-1zM660 499h6v1h-6zM672 499h4v1h-4zM679 499h3v1h-3zM705 499h1v1h-1zM713 499h1v1h-1zM732 499h6v1h-6zM766 499h2v1h-2zM23 500h1v1h-1zM47 500h1v1h-1zM605 500h2v1h-2zM658 500h2v1h-2zM666 500h6v1h-6zM682 500h2v1h-2zM704 500h1v1h-1zM714 500h2v1h-2zM728 500h4v1h-4zM768 500h1v1h-1zM22 501h1v1h-1zM48 501h1v1h-1zM604 501h1v1h-1zM607 501h2v1h-2zM655 501h3v1h-3zM684 501h6v1h-6zM702 501h2v1h-2zM716 501h1v1h-1zM722 501h6v1h-6zM769 501h1v1h-1zM829 501h2v1h-2zM866 501h8v1h-8zM20 502h2v1h-2zM48 502h1v1h-1zM250 502h5v1h-5zM603 502h1v1h-1zM609 502h2v1h-2zM644 502h11v1h-11zM690 502h12v1h-12zM717 502h5v1h-5zM770 502h2v1h-2zM827 502h2v1h-2zM831 502h3v1h-3zM858 502h8v1h-8zM874 502h4v1h-4zM16 503h4v1h-4zM49 503h1v1h-1zM244 503h6v1h-6zM255 503h3v1h-3zM602 503h1v1h-1zM611 503h2v1h-2zM640 503h4v1h-4zM772 503h1v1h-1zM825 503h2v1h-2zM834 503h2v1h-2zM853 503h5v1h-5zM878 503h2v1h-2zM13 504h3v1h-3zM50 504h1v1h-1zM240 504h4v1h-4zM258 504h2v1h-2zM601 504h1v1h-1zM613 504h5v1h-5zM637 504h3v1h-3zM773 504h1v1h-1zM823 504h2v1h-2zM836 504h3v1h-3zM851 504h2v1h-2zM880 504h2v1h-2zM11 505h2v1h-2zM50 505h1v1h-1zM234 505h6v1h-6zM260 505h2v1h-2zM600 505h1v1h-1zM618 505h5v1h-5zM635 505h2v1h-2zM774 505h1v1h-1zM821 505h2v1h-2zM839 505h2v1h-2zM850 505h1v1h-1zM882 505h1v1h-1zM9 506h2v1h-2zM51 506h1v1h-1zM228 506h6v1h-6zM262 506h1v1h-1zM599 506h1v1h-1zM623 506h3v1h-3zM633 506h2v1h-2zM775 506h1v1h-1zM819 506h2v1h-2zM841 506h2v1h-2zM848 506h2v1h-2zM883 506h2v1h-2zM7 507h2v1h-2zM51 507h1v1h-1zM164 507h4v1h-4zM226 507h2v1h-2zM263 507h1v1h-1zM309 507h1v1h-1zM598 507h1v1h-1zM626 507h2v1h-2zM631 507h2v1h-2zM775 507h1v1h-1zM817 507h2v1h-2zM843 507h2v1h-2zM846 507h2v1h-2zM885 507h3v1h-3zM5 508h2v1h-2zM52 508h1v1h-1zM77 508h2v1h-2zM160 508h4v1h-4zM168 508h4v1h-4zM186 508h6v1h-6zM204 508h2v1h-2zM223 508h3v1h-3zM264 508h1v1h-1zM307 508h2v1h-2zM310 508h2v1h-2zM597 508h1v1h-1zM628 508h3v1h-3zM776 508h1v1h-1zM804 508h6v1h-6zM815 508h2v1h-2zM845 508h1v1h-1zM888 508h4v1h-4zM52 509h1v1h-1zM75 509h2v1h-2zM79 509h2v1h-2zM157 509h3v1h-3zM172 509h14v1h-14zM192 509h4v1h-4zM200 509h4v1h-4zM206 509h2v1h-2zM221 509h2v1h-2zM265 509h1v1h-1zM306 509h1v1h-1zM312 509h2v1h-2zM595 509h2v1h-2zM777 509h1v1h-1zM800 509h4v1h-4zM810 509h5v1h-5zM892 509h6v1h-6zM53 510h2v1h-2zM74 510h1v1h-1zM81 510h2v1h-2zM156 510h1v1h-1zM196 510h4v1h-4zM208 510h2v1h-2zM219 510h2v1h-2zM266 510h1v1h-1zM304 510h2v1h-2zM314 510h1v1h-1zM562 510h8v1h-8zM594 510h1v1h-1zM778 510h1v1h-1zM797 510h3v1h-3zM898 510h14v1h-14zM55 511h3v1h-3zM72 511h2v1h-2zM83 511h2v1h-2zM155 511h1v1h-1zM210 511h1v1h-1zM217 511h2v1h-2zM267 511h1v1h-1zM302 511h2v1h-2zM315 511h2v1h-2zM557 511h5v1h-5zM570 511h8v1h-8zM592 511h2v1h-2zM779 511h1v1h-1zM795 511h2v1h-2zM912 511h4v1h-4zM58 512h2v1h-2zM70 512h2v1h-2zM85 512h34v1h-34zM154 512h1v1h-1zM211 512h2v1h-2zM215 512h2v1h-2zM268 512h1v1h-1zM300 512h2v1h-2zM317 512h2v1h-2zM556 512h1v1h-1zM578 512h8v1h-8zM590 512h2v1h-2zM779 512h1v1h-1zM793 512h2v1h-2zM916 512h1v1h-1zM60 513h10v1h-10zM119 513h2v1h-2zM152 513h2v1h-2zM213 513h2v1h-2zM269 513h13v1h-13zM298 513h2v1h-2zM319 513h3v1h-3zM555 513h1v1h-1zM586 513h4v1h-4zM780 513h1v1h-1zM791 513h2v1h-2zM121 514h2v1h-2zM151 514h1v1h-1zM282 514h8v1h-8zM295 514h3v1h-3zM322 514h2v1h-2zM554 514h1v1h-1zM781 514h10v1h-10zM123 515h2v1h-2zM150 515h1v1h-1zM290 515h5v1h-5zM324 515h12v1h-12zM553 515h1v1h-1zM125 516h3v1h-3zM146 516h4v1h-4zM336 516h4v1h-4zM541 516h2v1h-2zM552 516h1v1h-1zM128 517h4v1h-4zM138 517h8v1h-8zM340 517h6v1h-6zM354 517h5v1h-5zM539 517h2v1h-2zM543 517h3v1h-3zM551 517h1v1h-1zM132 518h6v1h-6zM346 518h8v1h-8zM359 518h3v1h-3zM537 518h2v1h-2zM546 518h2v1h-2zM550 518h1v1h-1zM362 519h2v1h-2zM522 519h8v1h-8zM535 519h2v1h-2zM548 519h2v1h-2zM364 520h3v1h-3zM517 520h5v1h-5zM530 520h5v1h-5zM367 521h2v1h-2zM490 521h8v1h-8zM515 521h2v1h-2zM369 522h2v1h-2zM380 522h20v1h-20zM482 522h8v1h-8zM498 522h6v1h-6zM513 522h2v1h-2zM371 523h2v1h-2zM376 523h4v1h-4zM400 523h4v1h-4zM474 523h8v1h-8zM504 523h4v1h-4zM511 523h2v1h-2zM373 524h3v1h-3zM404 524h3v1h-3zM461 524h13v1h-13zM508 524h3v1h-3zM407 525h3v1h-3zM459 525h2v1h-2zM410 526h2v1h-2zM418 526h8v1h-8zM458 526h1v1h-1zM412 527h6v1h-6zM426 527h16v1h-16zM456 527h2v1h-2zM442 528h8v1h-8zM454 528h2v1h-2zM450 529h4v1h-4z" fill="#1e90ff"/>
</g>
<rect x="1168" y="37" width="2" height="1" fill="#000000"/>
<rect x="1168" y="70" width="2" height="1" fill="#000000"/>
<rect x="1168" y="103" width="2" height="1" fill="#000000"/>
<rect x="1168" y="136" width="2" height="1" fill="#000000"/>
<rect x="1168" y="169" width="2" height="1" fill="#000000"/>
<rect x="1168" y="202" width="2" height="1" fill="#000000"/>
<rect x="1168" y="235" width="2" height="1" fill="#000000"/>
<rect x="1168" y="268" width="2" height="1" fill="#000000"/>
<rect x="1168" y="301" width="2" height="1" fill="#000000"/>
<rect x="1168" y="334" width="2" height="1" fill="#000000"/>
<rect x="1168" y="367" width="2" height="1" fill="#000000"/>
<rect x="1168" y="400" width="2" height="1" fill="#000000"/>
<rect x="1168" y="407" width="1" height="1" fill="#000000"/>
<rect x="1168" y="441" width="1" height="1" fill="#000000"/>
<rect x="1168" y="473" width="1" height="1" fill="#000000"/>
<rect x="1168" y="478" width="1" height="1" fill="#000000"/>
<rect x="1168" y="547" width="1" height="1" fill="#000000"/>
<rect x="5" y="549" width="1" height="3" fill="#000000"/>
<rect x="69" y="549" width="1" height="3" fill="#000000"/>
<rect x="133" y="549" width="1" height="3" fill="#000000"/>
<rect x="197" y="549" width="1" height="3" fill="#000000"/>
<rect x="261" y="549" width="1" height="3" fill="#000000"/>
<rect x="325" y="549" width="1" height="3" fill="#000000"/>
<rect x="389" y="549" width="1" height="3" fill="#000000"/>
<rect x="453" y="549" width="1" height="3" fill="#000000"/>
<rect x="517" y="549" width="1" height="3" fill="#000000"/>
<rect x="581" y="549" width="1" height="3" fill="#000000"/>
<rect x="645" y="549" width="1" height="3" fill="#000000"/>
<rect x="709" y="549" width="1" height="3" fill="#000000"/>
<rect x="773" y="549" width="1" height="3" fill="#000000"/>
<rect x="837" y="549" width="1" height="3" fill="#000000"/>
<rect x="901" y="549" width="1" height="3" fill="#000000"/>
</g>
<path d="M8 31 H15.2 L11.6 35.2 Z" fill="#000"/>
<text x="20" y="36" font-size="9.9" fill="#000" stroke="#000" stroke-width="0.3" text-rendering="geometricPrecision" textLength="69" lengthAdjust="spacingAndGlyphs" xml:space="preserve">USDCAD-,Daily</text>
<text x="95.2" y="36" font-size="9.9" fill="#000" stroke="#000" stroke-width="0.3" text-rendering="geometricPrecision" textLength="32.6" lengthAdjust="spacingAndGlyphs" xml:space="preserve">1.28151</text>
<text x="131.2" y="36" font-size="9.9" fill="#000" stroke="#000" stroke-width="0.3" text-rendering="geometricPrecision" textLength="32.6" lengthAdjust="spacingAndGlyphs" xml:space="preserve">1.28463</text>
<text x="167.2" y="36" font-size="9.9" fill="#000" stroke="#000" stroke-width="0.3" text-rendering="geometricPrecision" textLength="32.6" lengthAdjust="spacingAndGlyphs" xml:space="preserve">1.27776</text>
<text x="203.2" y="36" font-size="9.9" fill="#000" stroke="#000" stroke-width="0.3" text-rendering="geometricPrecision" textLength="32.6" lengthAdjust="spacingAndGlyphs" xml:space="preserve">1.27881</text>
<text x="9" y="418" font-size="9.9" fill="#000" stroke="#000" stroke-width="0.3" text-rendering="geometricPrecision" textLength="66" lengthAdjust="spacingAndGlyphs" xml:space="preserve">MACD(12,26,9)</text>
<text x="78.5" y="418" font-size="9.9" fill="#000" stroke="#000" stroke-width="0.3" text-rendering="geometricPrecision" textLength="37.5" lengthAdjust="spacingAndGlyphs" xml:space="preserve">0.004102</text>
<text x="119.5" y="418" font-size="9.9" fill="#000" stroke="#000" stroke-width="0.3" text-rendering="geometricPrecision" textLength="37.5" lengthAdjust="spacingAndGlyphs" xml:space="preserve">0.005845</text>
<text x="9" y="489" font-size="9.9" fill="#000" stroke="#000" stroke-width="0.3" text-rendering="geometricPrecision" textLength="68.5" lengthAdjust="spacingAndGlyphs" xml:space="preserve">RSI(14) 50.8546</text>
<text x="1173.4" y="41" font-size="9.9" fill="#000" stroke="#000" stroke-width="0.3" text-rendering="geometricPrecision" textLength="32.6" lengthAdjust="spacingAndGlyphs" xml:space="preserve">1.29750</text>
<text x="1173.4" y="74" font-size="9.9" fill="#000" stroke="#000" stroke-width="0.3" text-rendering="geometricPrecision" textLength="32.6" lengthAdjust="spacingAndGlyphs" xml:space="preserve">1.29105</text>
<text x="1173.4" y="107" font-size="9.9" fill="#000" stroke="#000" stroke-width="0.3" text-rendering="geometricPrecision" textLength="32.6" lengthAdjust="spacingAndGlyphs" xml:space="preserve">1.28475</text>
<text x="1173.4" y="173" font-size="9.9" fill="#000" stroke="#000" stroke-width="0.3" text-rendering="geometricPrecision" textLength="32.6" lengthAdjust="spacingAndGlyphs" xml:space="preserve">1.27200</text>
<text x="1173.4" y="206" font-size="9.9" fill="#000" stroke="#000" stroke-width="0.3" text-rendering="geometricPrecision" textLength="32.6" lengthAdjust="spacingAndGlyphs" xml:space="preserve">1.26570</text>
<text x="1173.4" y="239" font-size="9.9" fill="#000" stroke="#000" stroke-width="0.3" text-rendering="geometricPrecision" textLength="32.6" lengthAdjust="spacingAndGlyphs" xml:space="preserve">1.25925</text>
<text x="1173.4" y="272" font-size="9.9" fill="#000" stroke="#000" stroke-width="0.3" text-rendering="geometricPrecision" textLength="32.6" lengthAdjust="spacingAndGlyphs" xml:space="preserve">1.25295</text>
<text x="1173.4" y="305" font-size="9.9" fill="#000" stroke="#000" stroke-width="0.3" text-rendering="geometricPrecision" textLength="32.6" lengthAdjust="spacingAndGlyphs" xml:space="preserve">1.24650</text>
<text x="1173.4" y="338" font-size="9.9" fill="#000" stroke="#000" stroke-width="0.3" text-rendering="geometricPrecision" textLength="32.6" lengthAdjust="spacingAndGlyphs" xml:space="preserve">1.24020</text>
<text x="1173.4" y="371" font-size="9.9" fill="#000" stroke="#000" stroke-width="0.3" text-rendering="geometricPrecision" textLength="32.6" lengthAdjust="spacingAndGlyphs" xml:space="preserve">1.23375</text>
<text x="1173.4" y="404" font-size="9.9" fill="#000" stroke="#000" stroke-width="0.3" text-rendering="geometricPrecision" textLength="32.6" lengthAdjust="spacingAndGlyphs" xml:space="preserve">1.22745</text>
<rect x="1169" y="78" width="38" height="11" fill="#ff0000"/>
<text x="1173.4" y="87" font-size="9.9" fill="#ffffff" stroke="#ffffff" stroke-width="0.2" text-rendering="geometricPrecision" textLength="32.6" lengthAdjust="spacingAndGlyphs" xml:space="preserve">1.28851</text>
<rect x="1169" y="129" width="38" height="11" fill="#000000"/>
<text x="1173.4" y="138" font-size="9.9" fill="#ffffff" stroke="#ffffff" stroke-width="0.2" text-rendering="geometricPrecision" textLength="32.6" lengthAdjust="spacingAndGlyphs" xml:space="preserve">1.27881</text>
<rect x="1169" y="147" width="38" height="11" fill="#00ff00"/>
<text x="1173.4" y="156" font-size="9.9" fill="#ffffff" stroke="#ffffff" stroke-width="0.2" text-rendering="geometricPrecision" textLength="32.6" lengthAdjust="spacingAndGlyphs" xml:space="preserve">1.27515</text>
<rect x="1169" y="215" width="38" height="11" fill="#0000ff"/>
<text x="1173.4" y="224" font-size="9.9" fill="#ffffff" stroke="#ffffff" stroke-width="0.2" text-rendering="geometricPrecision" textLength="32.6" lengthAdjust="spacingAndGlyphs" xml:space="preserve">1.26199</text>
<rect x="1169" y="278" width="38" height="11" fill="#0000ff"/>
<text x="1173.4" y="287" font-size="9.9" fill="#ffffff" stroke="#ffffff" stroke-width="0.2" text-rendering="geometricPrecision" textLength="32.6" lengthAdjust="spacingAndGlyphs" xml:space="preserve">1.24995</text>
<rect x="1169" y="339" width="38" height="11" fill="#0000ff"/>
<text x="1173.4" y="348" font-size="9.9" fill="#ffffff" stroke="#ffffff" stroke-width="0.2" text-rendering="geometricPrecision" textLength="32.6" lengthAdjust="spacingAndGlyphs" xml:space="preserve">1.23810</text>
<text x="1171" y="416" font-size="9.9" fill="#000" stroke="#000" stroke-width="0.3" text-rendering="geometricPrecision" textLength="37.5" lengthAdjust="spacingAndGlyphs" xml:space="preserve">0.009345</text>
<text x="1171" y="445" font-size="9.9" fill="#000" stroke="#000" stroke-width="0.3" text-rendering="geometricPrecision" textLength="18" lengthAdjust="spacingAndGlyphs" xml:space="preserve">0.00</text>
<text x="1171" y="471" font-size="9.9" fill="#000" stroke="#000" stroke-width="0.3" text-rendering="geometricPrecision" textLength="41" lengthAdjust="spacingAndGlyphs" xml:space="preserve">-0.008900</text>
<text x="1171" y="487" font-size="9.9" fill="#000" stroke="#000" stroke-width="0.3" text-rendering="geometricPrecision" textLength="15" lengthAdjust="spacingAndGlyphs" xml:space="preserve">100</text>
<text x="1170.3" y="502" font-size="9.9" fill="#000" stroke="#000" stroke-width="0.3" text-rendering="geometricPrecision" textLength="10" lengthAdjust="spacingAndGlyphs" xml:space="preserve">70</text>
<text x="1170.3" y="530" font-size="9.9" fill="#000" stroke="#000" stroke-width="0.3" text-rendering="geometricPrecision" textLength="10" lengthAdjust="spacingAndGlyphs" xml:space="preserve">30</text>
<text x="1171" y="545" font-size="9.9" fill="#000" stroke="#000" stroke-width="0.3" text-rendering="geometricPrecision" textLength="5" lengthAdjust="spacingAndGlyphs" xml:space="preserve">0</text>
<text x="4.2" y="561" font-size="9.9" fill="#000" stroke="#000" stroke-width="0.3" text-rendering="geometricPrecision" textLength="52.5" lengthAdjust="spacingAndGlyphs" xml:space="preserve">16 Aug 2021</text>
<text x="68.2" y="561" font-size="9.9" fill="#000" stroke="#000" stroke-width="0.3" text-rendering="geometricPrecision" textLength="52.2" lengthAdjust="spacingAndGlyphs" xml:space="preserve">25 Aug 2021</text>
<text x="132.2" y="561" font-size="9.9" fill="#000" stroke="#000" stroke-width="0.3" text-rendering="geometricPrecision" textLength="46.2" lengthAdjust="spacingAndGlyphs" xml:space="preserve">3 Sep 2021</text>
<text x="196.2" y="561" font-size="9.9" fill="#000" stroke="#000" stroke-width="0.3" text-rendering="geometricPrecision" textLength="51.8" lengthAdjust="spacingAndGlyphs" xml:space="preserve">13 Sep 2021</text>
<text x="260.2" y="561" font-size="9.9" fill="#000" stroke="#000" stroke-width="0.3" text-rendering="geometricPrecision" textLength="51.5" lengthAdjust="spacingAndGlyphs" xml:space="preserve">22 Sep 2021</text>
<text x="324.2" y="561" font-size="9.9" fill="#000" stroke="#000" stroke-width="0.3" text-rendering="geometricPrecision" textLength="45.5" lengthAdjust="spacingAndGlyphs" xml:space="preserve">1 Oct 2021</text>
<text x="388.2" y="561" font-size="9.9" fill="#000" stroke="#000" stroke-width="0.3" text-rendering="geometricPrecision" textLength="50.6" lengthAdjust="spacingAndGlyphs" xml:space="preserve">11 Oct 2021</text>
<text x="452.2" y="561" font-size="9.9" fill="#000" stroke="#000" stroke-width="0.3" text-rendering="geometricPrecision" textLength="50.4" lengthAdjust="spacingAndGlyphs" xml:space="preserve">20 Oct 2021</text>
<text x="516.2" y="561" font-size="9.9" fill="#000" stroke="#000" stroke-width="0.3" text-rendering="geometricPrecision" textLength="50.4" lengthAdjust="spacingAndGlyphs" xml:space="preserve">29 Oct 2021</text>
<text x="580.2" y="561" font-size="9.9" fill="#000" stroke="#000" stroke-width="0.3" text-rendering="geometricPrecision" textLength="48.7" lengthAdjust="spacingAndGlyphs" xml:space="preserve">8 Nov 2021</text>
<text x="644.2" y="561" font-size="9.9" fill="#000" stroke="#000" stroke-width="0.3" text-rendering="geometricPrecision" textLength="53.6" lengthAdjust="spacingAndGlyphs" xml:space="preserve">17 Nov 2021</text>
<text x="708.2" y="561" font-size="9.9" fill="#000" stroke="#000" stroke-width="0.3" text-rendering="geometricPrecision" textLength="53.2" lengthAdjust="spacingAndGlyphs" xml:space="preserve">26 Nov 2021</text>
<text x="772.2" y="561" font-size="9.9" fill="#000" stroke="#000" stroke-width="0.3" text-rendering="geometricPrecision" textLength="46.8" lengthAdjust="spacingAndGlyphs" xml:space="preserve">6 Dec 2021</text>
<text x="836.2" y="561" font-size="9.9" fill="#000" stroke="#000" stroke-width="0.3" text-rendering="geometricPrecision" textLength="51.5" lengthAdjust="spacingAndGlyphs" xml:space="preserve">15 Dec 2021</text>
<text x="900.2" y="561" font-size="9.9" fill="#000" stroke="#000" stroke-width="0.3" text-rendering="geometricPrecision" textLength="51.8" lengthAdjust="spacingAndGlyphs" xml:space="preserve">24 Dec 2021</text>
<rect x="0" y="569" width="1207" height="1" fill="#e8e8e8"/>
<rect x="0" y="571" width="1207" height="1" fill="#000000"/>
<rect x="0" y="572" width="1207" height="1" fill="#f8f8f8"/>
<rect x="0" y="573" width="1207" height="18" fill="#f0f0f0"/>
<rect x="0" y="591" width="1207" height="1" fill="#ffffff"/>
<rect x="0" y="592" width="1207" height="3" fill="#f0f0f0"/>
<rect x="0" y="572" width="1" height="19" fill="#a8a8a8"/>
<rect x="1" y="572" width="1" height="18" fill="#888888"/>
<rect x="418" y="571" width="108" height="19" fill="#000000"/>
<rect x="419" y="570" width="106" height="19" fill="#ffffff"/>
<text x="16.9" y="586" font-size="13" fill="#7d7d7d" stroke="#7d7d7d" stroke-width="0.05" text-rendering="geometricPrecision" textLength="78.7" lengthAdjust="spacingAndGlyphs" xml:space="preserve">USDX,Weekly</text>
<text x="116.8" y="586" font-size="13" fill="#7d7d7d" stroke="#7d7d7d" stroke-width="0.05" text-rendering="geometricPrecision" textLength="86.5" lengthAdjust="spacingAndGlyphs" xml:space="preserve">EURUSD-,Daily</text>
<text x="223.9" y="586" font-size="13" fill="#7d7d7d" stroke="#7d7d7d" stroke-width="0.05" text-rendering="geometricPrecision" textLength="87.1" lengthAdjust="spacingAndGlyphs" xml:space="preserve">AUDUSD-,Daily</text>
<text x="333.7" y="586" font-size="13" fill="#7d7d7d" stroke="#7d7d7d" stroke-width="0.05" text-rendering="geometricPrecision" textLength="72.4" lengthAdjust="spacingAndGlyphs" xml:space="preserve">USDCHF-,H4</text>
<text x="429.0" y="586" font-size="13" fill="#000" stroke="#000" stroke-width="0.2" text-rendering="geometricPrecision" textLength="86.0" lengthAdjust="spacingAndGlyphs" xml:space="preserve">USDCAD-,Daily</text>
<text x="537.9" y="586" font-size="13" fill="#7d7d7d" stroke="#7d7d7d" stroke-width="0.05" text-rendering="geometricPrecision" textLength="88.1" lengthAdjust="spacingAndGlyphs" xml:space="preserve">USDCNH-,Daily</text>
<text x="648.7" y="586" font-size="13" fill="#7d7d7d" stroke="#7d7d7d" stroke-width="0.05" text-rendering="geometricPrecision" textLength="74.2" lengthAdjust="spacingAndGlyphs" xml:space="preserve">XAUUSD-,H1</text>
<text x="744.0" y="586" font-size="13" fill="#7d7d7d" stroke="#7d7d7d" stroke-width="0.05" text-rendering="geometricPrecision" textLength="82.8" lengthAdjust="spacingAndGlyphs" xml:space="preserve">UKOil-,Weekly</text>
<text x="850.0" y="586" font-size="13" fill="#7d7d7d" stroke="#7d7d7d" stroke-width="0.05" text-rendering="geometricPrecision" textLength="64.3" lengthAdjust="spacingAndGlyphs" xml:space="preserve">DJ30-,Daily</text>
<text x="937.0" y="586" font-size="13" fill="#7d7d7d" stroke="#7d7d7d" stroke-width="0.05" text-rendering="geometricPrecision" textLength="61.3" lengthAdjust="spacingAndGlyphs" xml:space="preserve">UK100-,H1</text>
<rect x="106" y="574" width="1" height="14" fill="#808080"/>
<rect x="214" y="574" width="1" height="14" fill="#808080"/>
<rect x="322" y="574" width="1" height="14" fill="#808080"/>
<rect x="638" y="574" width="1" height="14" fill="#808080"/>
<rect x="734" y="574" width="1" height="14" fill="#808080"/>
<rect x="838" y="574" width="1" height="14" fill="#808080"/>
<rect x="926" y="574" width="1" height="14" fill="#808080"/>
<rect x="1010" y="574" width="1" height="14" fill="#808080"/>
<path d="M1186 577 V584 L1182.5 580.5 Z" fill="#909090"/>
<path d="M1202 577 V584 L1205.5 580.5 Z" fill="#909090"/>
</svg>
</body></html>
